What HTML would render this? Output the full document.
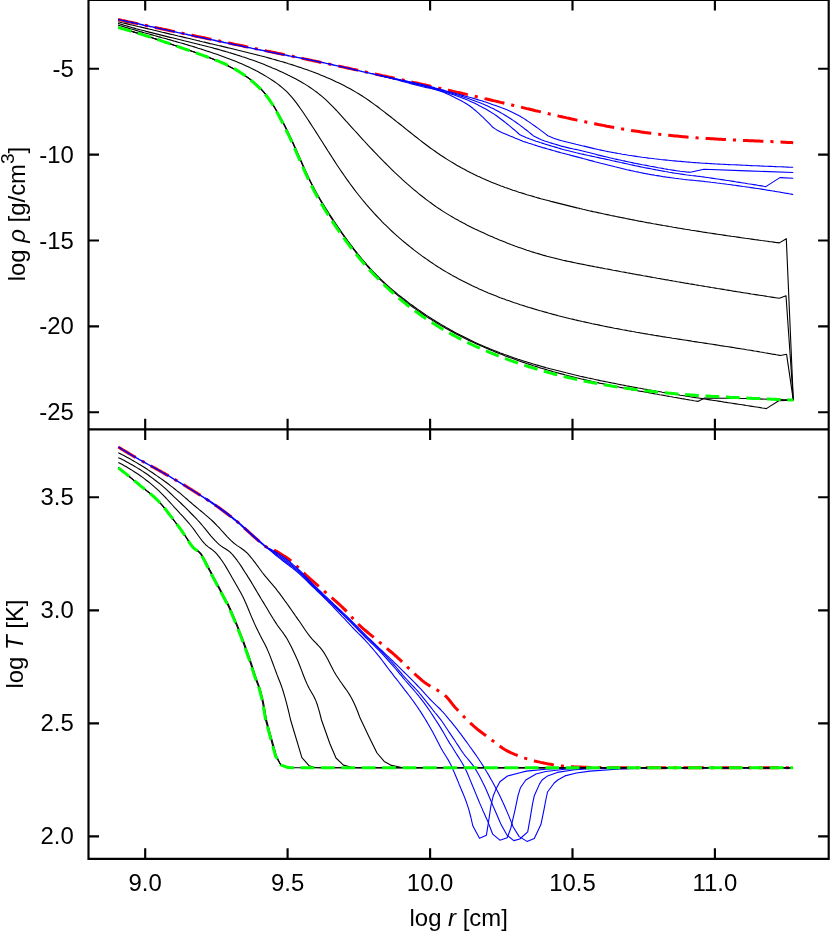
<!DOCTYPE html>
<html><head><meta charset="utf-8"><title>log rho / log T vs log r</title>
<style>
html,body{margin:0;padding:0;background:#fff;}
body{width:830px;height:931px;overflow:hidden;}
svg{display:block;}
text{font-family:"Liberation Sans",sans-serif;font-size:23.90px;fill:#000;}
.k{fill:none;stroke:#000;stroke-width:1.1;stroke-linejoin:round;}
.b{fill:none;stroke:#0000ff;stroke-width:1.1;stroke-linejoin:round;}
.r{fill:none;stroke:#ff0000;stroke-width:3.0;stroke-dasharray:20.4 7 3.1 7;stroke-linejoin:round;}
.g{fill:none;stroke:#00ff00;stroke-width:3.0;stroke-dasharray:13.8 6.6;stroke-linejoin:round;}
.f{fill:none;stroke:#000;stroke-width:2.15;stroke-linecap:butt;}
</style></head><body>
<svg style="will-change:transform" width="830" height="931" viewBox="0 0 830 931">
<rect x="0" y="0" width="830" height="931" fill="#fff"/>
<g id="top-panel">
<path class="r" d="M118.1 19.5 L120.1 19.9 L122.1 20.4 L124.1 20.8 L126.1 21.2 L128.1 21.7 L130.1 22.1 L132.1 22.5 L134.1 23.0 L136.1 23.4 L138.1 23.8 L140.1 24.3 L142.1 24.7 L144.1 25.1 L146.1 25.5 L148.1 26.0 L150.2 26.4 L152.2 26.8 L154.2 27.3 L156.2 27.7 L158.2 28.1 L160.0 28.5 L160.2 28.5 L162.2 29.0 L164.2 29.4 L166.2 29.8 L168.2 30.2 L170.2 30.7 L172.2 31.1 L174.2 31.5 L176.2 31.9 L178.2 32.4 L180.2 32.8 L182.2 33.2 L184.2 33.6 L186.2 34.0 L188.2 34.5 L190.2 34.9 L192.2 35.3 L194.2 35.7 L196.2 36.2 L198.2 36.6 L200.0 37.0 L200.2 37.0 L202.2 37.4 L204.2 37.8 L206.2 38.3 L208.2 38.7 L210.3 39.1 L212.3 39.5 L214.3 40.0 L216.3 40.4 L218.3 40.8 L220.3 41.2 L222.3 41.6 L224.3 42.1 L226.3 42.5 L228.3 42.9 L230.3 43.3 L232.3 43.7 L234.3 44.2 L236.3 44.6 L238.3 45.0 L240.3 45.4 L242.3 45.8 L244.3 46.2 L246.3 46.7 L248.3 47.1 L250.3 47.5 L252.3 47.9 L254.3 48.3 L256.3 48.8 L258.3 49.2 L260.3 49.6 L262.3 50.0 L264.3 50.4 L266.3 50.9 L268.3 51.3 L270.0 51.6 L270.3 51.7 L272.4 52.1 L274.4 52.5 L276.4 53.0 L278.4 53.4 L280.4 53.8 L282.4 54.2 L284.4 54.6 L286.4 55.1 L288.4 55.5 L290.4 55.9 L292.4 56.3 L294.4 56.8 L296.4 57.2 L298.4 57.6 L300.4 58.0 L302.4 58.4 L304.4 58.9 L306.4 59.3 L308.4 59.7 L310.4 60.1 L312.4 60.6 L314.4 61.0 L316.4 61.4 L318.4 61.8 L320.0 62.2 L320.4 62.2 L322.4 62.7 L324.4 63.1 L326.4 63.5 L328.4 63.9 L330.4 64.4 L332.4 64.8 L334.5 65.2 L336.5 65.7 L338.5 66.1 L340.5 66.5 L342.5 66.9 L344.5 67.4 L346.5 67.8 L348.5 68.2 L350.5 68.6 L352.5 69.1 L354.5 69.5 L356.5 69.9 L358.5 70.4 L360.5 70.8 L362.5 71.2 L364.5 71.7 L366.5 72.1 L368.5 72.5 L370.5 73.0 L372.5 73.4 L374.5 73.8 L376.5 74.3 L378.5 74.7 L380.0 75.0 L380.5 75.1 L382.5 75.6 L384.5 76.0 L386.5 76.4 L388.5 76.9 L390.5 77.3 L392.5 77.7 L394.6 78.2 L396.6 78.6 L398.6 79.1 L400.6 79.5 L402.6 79.9 L404.6 80.4 L406.6 80.8 L408.6 81.3 L410.6 81.7 L412.6 82.2 L414.6 82.6 L416.6 83.0 L418.6 83.5 L420.0 83.8 L420.6 83.9 L422.6 84.4 L424.6 84.8 L426.6 85.3 L428.6 85.7 L430.6 86.2 L432.6 86.6 L434.6 87.1 L436.6 87.5 L438.6 88.0 L440.6 88.4 L442.6 88.9 L444.6 89.3 L446.6 89.8 L448.6 90.2 L450.6 90.7 L452.6 91.2 L454.6 91.6 L456.7 92.1 L458.6 92.5 L458.7 92.5 L460.7 93.0 L462.7 93.5 L464.7 93.9 L466.7 94.4 L468.7 94.8 L470.7 95.3 L472.7 95.8 L474.7 96.2 L476.7 96.7 L478.7 97.2 L480.7 97.6 L482.7 98.1 L484.7 98.6 L486.7 99.0 L488.7 99.5 L490.7 100.0 L492.7 100.5 L494.7 100.9 L496.7 101.4 L497.1 101.5 L498.7 101.9 L500.7 102.4 L502.7 102.8 L504.7 103.3 L506.7 103.8 L508.7 104.3 L510.7 104.7 L512.7 105.2 L514.7 105.7 L516.7 106.2 L518.8 106.7 L520.8 107.1 L522.8 107.6 L524.8 108.1 L526.8 108.6 L528.8 109.0 L530.8 109.5 L532.8 110.0 L534.8 110.5 L535.7 110.7 L536.8 110.9 L538.8 111.4 L540.8 111.9 L542.8 112.4 L544.8 112.8 L546.8 113.3 L548.8 113.8 L550.8 114.2 L552.8 114.7 L554.8 115.2 L556.8 115.6 L558.8 116.1 L560.8 116.5 L562.8 117.0 L564.8 117.4 L566.8 117.9 L568.8 118.3 L570.8 118.8 L572.8 119.2 L574.8 119.6 L576.8 120.1 L578.9 120.5 L580.0 120.8 L580.9 120.9 L582.9 121.4 L584.9 121.8 L586.9 122.2 L588.9 122.6 L590.9 123.0 L592.9 123.4 L594.9 123.8 L596.9 124.2 L598.9 124.6 L600.9 125.0 L602.9 125.4 L604.9 125.8 L606.9 126.2 L608.6 126.5 L608.9 126.6 L610.9 126.9 L612.9 127.3 L614.9 127.7 L616.9 128.0 L618.9 128.4 L620.9 128.7 L622.9 129.1 L624.9 129.4 L626.9 129.7 L628.9 130.1 L630.9 130.4 L632.9 130.7 L634.9 131.0 L636.9 131.3 L638.9 131.6 L641.0 131.9 L643.0 132.2 L645.0 132.5 L647.0 132.7 L647.1 132.7 L649.0 133.0 L651.0 133.3 L653.0 133.5 L655.0 133.8 L657.0 134.0 L659.0 134.2 L661.0 134.5 L663.0 134.7 L665.0 134.9 L667.0 135.1 L669.0 135.3 L671.0 135.5 L673.0 135.7 L675.0 135.9 L677.0 136.1 L679.0 136.3 L681.0 136.5 L683.0 136.7 L685.0 136.8 L685.7 136.9 L687.0 137.0 L689.0 137.2 L691.0 137.3 L693.0 137.5 L695.0 137.6 L697.0 137.8 L699.0 137.9 L701.0 138.1 L703.1 138.2 L705.1 138.3 L705.5 138.4 L707.1 138.5 L709.1 138.6 L711.1 138.7 L713.1 138.8 L715.1 138.9 L717.1 139.1 L719.1 139.2 L721.1 139.3 L723.1 139.4 L725.1 139.5 L727.1 139.6 L729.1 139.7 L731.1 139.8 L733.1 139.9 L735.1 140.0 L737.1 140.1 L739.1 140.2 L741.1 140.3 L743.1 140.4 L745.1 140.5 L747.0 140.6 L747.1 140.6 L749.1 140.7 L751.1 140.8 L753.1 140.8 L755.1 140.9 L757.1 141.0 L759.1 141.1 L761.1 141.2 L763.2 141.3 L765.2 141.4 L767.2 141.5 L769.2 141.6 L771.2 141.6 L773.2 141.7 L775.2 141.8 L777.2 141.9 L779.2 142.0 L781.2 142.1 L783.2 142.2 L785.2 142.3 L787.2 142.4 L789.2 142.5 L791.2 142.6 L793.2 142.7"/>
<path class="b" style="stroke-width:1.45" d="M118.1 19.5 L120.1 19.9 L122.1 20.4 L124.1 20.8 L126.1 21.2 L128.1 21.7 L130.1 22.1 L132.1 22.5 L134.1 23.0 L136.1 23.4 L138.1 23.8 L140.1 24.3 L142.1 24.7 L144.1 25.2 L146.1 25.6 L148.1 26.0 L150.2 26.5 L152.2 26.9 L154.2 27.3 L156.2 27.8 L158.2 28.2 L160.0 28.6 L160.2 28.6 L162.2 29.1 L164.2 29.5 L166.2 29.9 L168.2 30.4 L170.2 30.8 L172.2 31.3 L174.2 31.7 L176.2 32.1 L178.2 32.6 L180.2 33.0 L182.2 33.4 L184.2 33.9 L186.2 34.3 L188.2 34.8 L190.2 35.2 L192.2 35.6 L194.2 36.1 L196.2 36.5 L198.2 36.9 L200.0 37.3 L200.2 37.4 L202.2 37.8 L204.2 38.2 L206.2 38.6 L208.2 39.1 L210.3 39.5 L212.3 39.9 L214.3 40.3 L216.3 40.8 L218.3 41.2 L220.3 41.6 L222.3 42.0 L224.3 42.5 L226.3 42.9 L228.3 43.3 L230.3 43.7 L232.3 44.2 L234.3 44.6 L236.3 45.0 L238.3 45.4 L240.3 45.8 L242.3 46.3 L244.3 46.7 L246.3 47.1 L248.3 47.5 L250.3 47.9 L252.3 48.4 L254.3 48.8 L256.3 49.2 L258.3 49.6 L260.3 50.0 L262.3 50.4 L264.3 50.8 L266.3 51.3 L268.3 51.7 L270.0 52.0 L270.3 52.1 L272.4 52.5 L274.4 52.9 L276.4 53.3 L278.4 53.7 L280.4 54.1 L282.4 54.5 L284.4 54.9 L286.4 55.3 L288.4 55.7 L290.4 56.1 L292.4 56.4 L294.4 56.8 L296.4 57.2 L298.4 57.6 L300.4 58.0 L302.4 58.4 L304.4 58.8 L306.4 59.2 L308.4 59.6 L310.4 60.0 L312.4 60.4 L314.4 60.8 L316.4 61.3 L318.4 61.7 L320.0 62.0 L320.4 62.1 L322.4 62.5 L324.4 62.9 L326.4 63.4 L328.4 63.8 L330.4 64.3 L332.4 64.7 L334.5 65.2 L336.5 65.6 L338.5 66.1 L340.5 66.5 L342.5 67.0 L344.5 67.4 L346.5 67.9 L348.5 68.3 L350.5 68.8 L352.5 69.3 L354.5 69.7 L356.5 70.2 L358.5 70.6 L360.5 71.1 L362.5 71.6 L364.5 72.0 L366.5 72.5 L368.5 72.9 L370.5 73.4 L372.5 73.8 L374.5 74.3 L376.5 74.7 L378.5 75.2 L380.0 75.5"/>
<path class="b" d="M380.0 75.5 L380.6 75.6 L382.6 76.1 L384.6 76.6 L386.6 77.2 L388.6 77.7 L390.6 78.2 L392.6 78.7 L394.6 79.3 L396.6 79.8 L398.6 80.3 L400.6 80.9 L402.6 81.4 L404.6 81.9 L406.6 82.5 L408.6 83.0 L410.6 83.6 L412.7 84.1 L414.7 84.6 L416.7 85.1 L418.7 85.7 L420.0 86.0 L420.7 86.2 L422.7 86.7 L424.7 87.1 L426.7 87.6 L428.7 88.0 L430.7 88.5 L432.7 89.0 L434.7 89.5 L436.7 90.0 L438.7 90.6 L439.3 90.8 L440.7 91.3 L442.7 92.0 L444.7 92.8 L446.7 93.7 L448.7 94.6 L450.7 95.5 L452.7 96.5 L454.7 97.5 L456.5 98.4 L456.7 98.5 L458.7 99.5 L460.7 100.6 L462.7 101.6 L464.7 102.8 L466.8 104.0 L468.3 105.0 L468.8 105.3 L470.8 106.7 L472.8 108.3 L474.8 110.0 L476.8 111.7 L477.5 112.3 L478.8 113.4 L480.8 115.3 L482.8 117.2 L484.8 119.1 L485.5 119.8 L486.8 121.1 L488.8 123.1 L490.8 125.2 L492.8 127.3 L494.8 128.6 L496.8 129.9 L498.8 131.0 L500.1 131.7 L500.8 132.1 L502.8 133.0 L504.8 133.8 L506.8 134.6 L508.8 135.4 L510.7 136.2 L510.8 136.3 L512.8 137.1 L514.8 138.0 L516.8 138.8 L518.8 139.6 L520.8 140.4 L521.3 140.6 L522.8 141.2 L524.8 141.9 L526.8 142.5 L528.8 143.2 L530.9 143.8 L532.9 144.5 L534.5 145.0 L534.9 145.1 L536.9 145.7 L538.9 146.4 L540.9 147.0 L542.9 147.6 L544.9 148.1 L546.9 148.7 L547.8 149.0 L548.9 149.3 L550.9 149.9 L552.9 150.5 L554.9 151.0 L556.9 151.6 L558.9 152.1 L560.9 152.7 L562.9 153.2 L564.9 153.8 L565.0 153.8 L566.9 154.3 L568.9 154.8 L570.9 155.4 L572.9 155.9 L574.9 156.4 L576.9 156.9 L578.9 157.4 L580.0 157.7 L580.9 157.9 L582.9 158.5 L584.9 159.0 L586.9 159.5 L588.9 160.1 L590.9 160.6 L592.9 161.1 L594.9 161.7 L596.9 162.2 L598.9 162.7 L600.9 163.3 L602.9 163.8 L604.9 164.3 L607.0 164.8 L608.6 165.2 L609.0 165.3 L611.0 165.8 L613.0 166.3 L615.0 166.8 L617.0 167.2 L619.0 167.7 L621.0 168.2 L623.0 168.7 L625.0 169.2 L627.0 169.7 L629.0 170.1 L631.0 170.6 L633.0 171.0 L635.0 171.5 L637.0 171.9 L639.0 172.3 L641.0 172.7 L643.0 173.1 L645.0 173.5 L647.0 173.9 L647.1 173.9 L649.0 174.2 L651.0 174.6 L653.0 174.9 L655.0 175.3 L657.0 175.6 L659.0 175.9 L661.0 176.2 L663.0 176.6 L665.0 176.9 L667.0 177.2 L669.0 177.4 L671.0 177.7 L673.0 178.0 L675.0 178.3 L677.0 178.5 L679.0 178.8 L681.1 179.0 L683.1 179.3 L685.1 179.5 L685.7 179.6 L687.1 179.7 L689.1 180.0 L691.1 180.1 L693.1 180.3 L695.1 180.5 L697.1 180.7 L699.1 180.9 L700.0 181.0 L701.1 181.1 L703.1 181.3 L705.1 181.6 L707.1 181.8 L709.1 182.0 L711.1 182.3 L713.1 182.5 L715.1 182.7 L717.1 183.0 L719.1 183.2 L721.1 183.5 L723.1 183.7 L725.1 184.0 L727.1 184.3 L729.1 184.5 L731.1 184.8 L733.1 185.1 L735.1 185.3 L737.1 185.6 L739.1 185.9 L741.1 186.2 L743.1 186.5 L745.1 186.7 L747.0 187.0 L747.1 187.0 L749.1 187.3 L751.1 187.6 L753.1 187.9 L755.1 188.2 L757.2 188.5 L759.2 188.8 L761.2 189.1 L763.2 189.4 L765.2 189.7 L767.2 190.1 L769.2 190.4 L771.2 190.7 L773.2 191.0 L775.2 191.4 L777.2 191.7 L779.2 192.0 L781.2 192.4 L783.2 192.7 L785.2 193.1 L787.2 193.4 L789.2 193.8 L791.2 194.1 L793.2 194.5"/>
<path class="b" d="M380.0 75.5 L381.3 75.8 L383.3 76.3 L385.3 76.7 L387.3 77.2 L389.3 77.7 L391.3 78.1 L393.3 78.6 L395.3 79.1 L397.4 79.5 L399.4 80.0 L401.4 80.5 L403.4 80.9 L405.4 81.4 L407.4 81.9 L409.4 82.4 L411.4 82.9 L413.4 83.4 L415.4 83.9 L417.4 84.4 L419.4 85.0 L420.0 85.1 L421.5 85.5 L423.5 86.0 L425.5 86.6 L427.5 87.1 L429.5 87.6 L431.5 88.2 L433.5 88.7 L435.5 89.3 L437.5 89.9 L439.5 90.5 L441.5 91.1 L443.6 91.7 L445.6 92.3 L447.6 92.9 L449.6 93.5 L451.6 94.2 L453.6 94.8 L455.0 95.3 L455.6 95.5 L457.6 96.2 L459.6 96.9 L461.6 97.7 L463.6 98.5 L465.7 99.3 L467.7 100.1 L468.3 100.4 L469.7 101.0 L471.7 101.9 L473.7 102.8 L475.7 103.8 L477.7 104.8 L479.7 105.9 L481.5 106.8 L481.7 106.9 L483.7 108.0 L485.7 109.1 L487.8 110.3 L489.8 111.4 L491.8 112.7 L493.8 113.9 L494.8 114.6 L495.8 115.3 L497.8 116.7 L499.8 118.2 L501.8 119.7 L503.8 121.3 L505.8 122.9 L507.8 124.5 L508.0 124.6 L509.9 126.1 L511.9 127.8 L513.9 129.5 L515.9 131.2 L517.9 133.0 L519.9 134.8 L521.9 135.7 L523.9 136.6 L525.9 137.5 L528.0 138.3 L529.2 138.8 L530.0 139.1 L532.0 139.8 L534.0 140.5 L536.0 141.2 L538.0 141.8 L540.1 142.5 L541.1 142.8 L542.1 143.1 L544.1 143.7 L546.1 144.4 L548.1 145.0 L550.1 145.6 L552.1 146.2 L554.2 146.8 L554.4 146.9 L556.2 147.4 L558.2 148.0 L560.2 148.6 L562.2 149.2 L564.2 149.8 L565.0 150.0 L566.3 150.3 L568.3 150.8 L570.3 151.3 L572.3 151.8 L574.3 152.3 L576.3 152.8 L578.4 153.2 L580.0 153.6 L580.4 153.7 L582.4 154.1 L584.4 154.6 L586.4 155.0 L588.4 155.5 L590.4 155.9 L592.5 156.4 L594.5 156.8 L596.5 157.2 L598.5 157.6 L600.5 158.1 L602.5 158.5 L604.6 158.9 L606.6 159.4 L608.6 159.8 L608.6 159.8 L610.6 160.2 L612.6 160.7 L614.6 161.1 L616.6 161.6 L618.7 162.0 L620.7 162.5 L622.7 162.9 L624.7 163.4 L626.7 163.8 L628.7 164.3 L630.8 164.7 L632.8 165.1 L634.8 165.6 L636.8 166.0 L638.8 166.4 L640.8 166.9 L642.8 167.3 L644.9 167.7 L646.9 168.1 L647.1 168.1 L648.9 168.4 L650.9 168.8 L652.9 169.2 L654.9 169.6 L657.0 170.0 L659.0 170.4 L661.0 170.7 L663.0 171.1 L665.0 171.5 L667.0 171.8 L669.1 172.2 L671.1 172.5 L673.1 172.9 L675.1 173.2 L677.1 173.5 L679.1 173.8 L681.1 174.1 L683.2 174.4 L685.2 174.7 L685.7 174.8 L687.2 175.0 L689.2 175.2 L691.2 175.5 L693.2 175.7 L695.3 175.9 L697.3 176.2 L699.3 176.4 L700.0 176.5 L701.3 176.7 L703.3 176.9 L705.3 177.2 L707.3 177.5 L709.4 177.8 L711.4 178.1 L713.4 178.4 L715.4 178.7 L717.4 179.0 L719.4 179.3 L721.5 179.6 L723.5 179.9 L725.5 180.2 L727.5 180.5 L729.5 180.8 L731.3 181.1 L731.5 181.1 L733.6 181.4 L735.6 181.8 L737.6 182.1 L739.6 182.4 L741.6 182.7 L743.6 183.0 L745.6 183.3 L747.7 183.7 L749.7 184.0 L751.7 184.3 L753.7 184.6 L755.7 184.9 L757.7 185.3 L759.8 185.6 L761.8 185.9 L763.8 186.3 L765.8 186.6 L779.9 177.6 L793.2 178.3"/>
<path class="b" d="M380.0 75.5 L380.8 75.7 L382.8 76.1 L384.8 76.6 L386.8 77.0 L388.8 77.4 L390.8 77.9 L392.8 78.3 L394.8 78.8 L396.8 79.2 L398.8 79.6 L400.8 80.1 L402.9 80.5 L404.9 81.0 L406.9 81.4 L408.9 81.9 L410.9 82.3 L412.9 82.8 L414.9 83.3 L416.9 83.7 L418.9 84.2 L420.0 84.5 L420.9 84.7 L422.9 85.2 L424.9 85.7 L426.9 86.3 L428.9 86.8 L430.9 87.3 L432.9 87.8 L434.9 88.4 L436.9 88.9 L439.0 89.5 L441.0 90.0 L443.0 90.6 L445.0 91.2 L447.0 91.8 L449.0 92.4 L451.0 93.0 L453.0 93.6 L455.0 94.2 L455.0 94.2 L457.0 94.8 L459.0 95.5 L461.0 96.1 L463.0 96.7 L465.0 97.4 L467.0 98.1 L469.0 98.8 L471.0 99.5 L473.0 100.2 L475.0 100.9 L477.1 101.7 L479.1 102.4 L481.1 103.2 L481.5 103.4 L483.1 104.0 L485.1 104.9 L487.1 105.8 L489.1 106.7 L491.1 107.7 L493.1 108.6 L494.8 109.5 L495.1 109.7 L497.1 110.7 L499.1 111.8 L501.1 112.9 L503.1 114.1 L505.1 115.2 L507.1 116.5 L508.0 117.0 L509.1 117.7 L511.1 119.0 L513.1 120.4 L515.2 121.8 L517.2 123.2 L519.2 124.6 L521.2 126.1 L521.3 126.2 L523.2 127.6 L525.2 129.2 L527.2 130.7 L529.2 132.4 L531.2 134.0 L533.2 135.7 L535.2 136.8 L537.2 137.8 L539.2 138.8 L541.1 139.6 L541.3 139.7 L543.3 140.4 L545.3 141.2 L547.3 141.8 L549.3 142.5 L551.4 143.1 L553.4 143.7 L554.4 144.0 L555.4 144.3 L557.4 144.9 L559.4 145.5 L561.4 146.1 L563.5 146.6 L565.0 147.0 L565.5 147.1 L567.5 147.6 L569.5 148.1 L571.5 148.5 L573.5 149.0 L575.6 149.4 L577.6 149.8 L579.6 150.3 L580.0 150.4 L581.6 150.8 L583.6 151.3 L585.6 151.8 L587.7 152.3 L589.7 152.8 L591.7 153.3 L593.7 153.8 L595.7 154.3 L597.7 154.9 L599.8 155.4 L601.8 155.9 L603.8 156.4 L605.8 156.8 L607.8 157.3 L608.6 157.5 L609.8 157.8 L611.9 158.2 L613.9 158.7 L615.9 159.1 L617.9 159.6 L619.9 160.0 L621.9 160.5 L624.0 160.9 L626.0 161.4 L628.0 161.8 L630.0 162.2 L632.0 162.6 L634.0 163.1 L636.1 163.5 L638.1 163.9 L640.1 164.3 L642.1 164.7 L644.1 165.0 L646.1 165.4 L647.1 165.6 L648.1 165.8 L650.2 166.2 L652.2 166.5 L654.2 166.9 L656.2 167.3 L658.2 167.7 L660.2 168.0 L662.3 168.4 L664.3 168.8 L666.3 169.1 L668.3 169.5 L670.3 169.8 L672.4 170.1 L674.4 170.4 L676.4 170.7 L678.4 171.0 L680.4 171.3 L682.4 171.5 L684.5 171.8 L685.7 171.9 L686.5 172.0 L688.5 172.1 L690.5 172.3 L703.9 169.3 L747.0 170.9 L793.2 172.5"/>
<path class="b" d="M380.0 75.5 L381.1 75.7 L383.1 76.2 L385.2 76.6 L387.2 77.0 L389.2 77.5 L391.2 77.9 L393.2 78.3 L395.2 78.7 L397.2 79.1 L399.2 79.5 L401.2 80.0 L403.2 80.4 L405.2 80.8 L407.2 81.2 L409.3 81.7 L411.3 82.1 L413.3 82.6 L415.3 83.0 L417.3 83.5 L419.3 83.9 L420.0 84.1 L421.3 84.4 L423.3 84.9 L425.3 85.4 L427.3 85.9 L429.3 86.4 L431.3 86.9 L433.3 87.4 L435.4 88.0 L437.4 88.5 L439.4 89.0 L441.4 89.6 L443.4 90.1 L445.4 90.7 L447.4 91.2 L449.4 91.8 L451.4 92.3 L453.4 92.9 L455.0 93.3 L455.4 93.4 L457.4 94.0 L459.5 94.5 L461.5 95.1 L463.5 95.6 L465.5 96.2 L467.5 96.7 L469.5 97.3 L471.5 97.8 L473.5 98.4 L475.5 99.0 L477.5 99.6 L479.5 100.2 L481.5 100.8 L481.5 100.8 L483.5 101.4 L485.6 102.1 L487.6 102.8 L489.6 103.5 L491.6 104.2 L493.6 104.9 L494.8 105.3 L495.6 105.6 L497.6 106.3 L499.6 107.0 L501.6 107.8 L503.6 108.5 L505.6 109.3 L507.6 110.1 L508.0 110.3 L509.6 111.0 L511.7 112.0 L513.7 112.9 L515.7 113.9 L517.7 115.0 L519.7 116.1 L521.3 117.0 L521.7 117.2 L523.7 118.4 L525.7 119.7 L527.7 121.1 L529.7 122.4 L531.7 123.9 L533.7 125.3 L534.5 125.8 L535.8 126.7 L537.8 128.1 L539.8 129.6 L541.8 131.1 L543.8 132.6 L545.8 134.1 L547.8 135.7 L549.8 136.6 L551.8 137.4 L553.8 138.2 L555.7 138.9 L555.8 138.9 L557.9 139.6 L559.9 140.2 L561.9 140.8 L563.9 141.3 L565.0 141.6 L565.9 141.8 L567.9 142.3 L569.9 142.8 L571.9 143.3 L573.9 143.8 L576.0 144.3 L578.0 144.7 L580.0 145.2 L580.0 145.2 L582.0 145.7 L584.0 146.1 L586.0 146.6 L588.0 147.1 L590.0 147.6 L592.1 148.1 L594.1 148.6 L596.1 149.0 L598.1 149.5 L600.1 149.9 L602.1 150.4 L604.1 150.8 L606.1 151.2 L608.1 151.6 L608.6 151.7 L610.2 152.0 L612.2 152.4 L614.2 152.7 L616.2 153.1 L618.2 153.5 L620.2 153.8 L622.2 154.2 L624.2 154.5 L626.2 154.8 L628.3 155.2 L630.3 155.5 L632.3 155.8 L634.3 156.1 L636.3 156.4 L638.3 156.7 L640.3 157.0 L642.3 157.3 L644.4 157.5 L646.4 157.8 L647.1 157.9 L648.4 158.1 L650.4 158.3 L652.4 158.5 L654.4 158.8 L656.4 159.0 L658.4 159.2 L660.4 159.5 L662.5 159.7 L664.5 159.9 L666.5 160.1 L668.5 160.3 L670.5 160.5 L672.5 160.7 L674.5 160.9 L676.5 161.1 L678.5 161.3 L680.6 161.4 L682.6 161.6 L684.6 161.8 L685.7 161.9 L686.6 162.0 L688.6 162.1 L690.6 162.3 L692.6 162.5 L694.6 162.6 L696.6 162.8 L698.7 162.9 L700.0 163.0 L700.7 163.0 L702.7 163.2 L704.7 163.3 L706.7 163.4 L708.7 163.5 L710.7 163.6 L712.7 163.7 L714.8 163.9 L716.8 164.0 L718.8 164.1 L720.8 164.2 L722.8 164.3 L724.8 164.4 L726.8 164.5 L728.8 164.6 L730.8 164.7 L732.9 164.8 L734.9 164.8 L736.9 164.9 L738.9 165.0 L740.9 165.1 L742.9 165.2 L744.9 165.3 L746.9 165.4 L747.0 165.4 L748.9 165.5 L751.0 165.6 L753.0 165.7 L755.0 165.8 L757.0 165.8 L759.0 165.9 L761.0 166.0 L763.0 166.1 L765.0 166.2 L767.1 166.3 L769.1 166.4 L771.1 166.4 L773.1 166.5 L775.1 166.6 L777.1 166.7 L779.1 166.8 L781.1 166.8 L783.1 166.9 L785.2 167.0 L787.2 167.1 L789.2 167.2 L791.2 167.2 L793.2 167.3"/>
<path class="k" d="M118.1 21.7 L120.1 22.2 L122.1 22.7 L124.1 23.1 L126.1 23.6 L128.1 24.1 L130.1 24.6 L132.1 25.0 L134.1 25.5 L136.1 26.0 L138.1 26.5 L140.1 26.9 L142.1 27.4 L144.2 27.9 L146.2 28.4 L148.2 28.9 L150.0 29.3 L150.2 29.3 L152.2 29.8 L154.2 30.3 L156.2 30.7 L158.2 31.2 L160.2 31.7 L162.2 32.2 L164.2 32.6 L166.2 33.1 L168.2 33.6 L170.2 34.1 L172.2 34.5 L174.2 35.0 L175.0 35.2 L176.2 35.5 L178.2 36.0 L180.2 36.4 L182.2 36.9 L184.2 37.4 L186.2 37.9 L188.2 38.3 L190.2 38.8 L192.2 39.3 L194.2 39.8 L196.3 40.2 L198.3 40.7 L200.0 41.1 L200.3 41.2 L202.3 41.7 L204.3 42.1 L206.3 42.6 L208.3 43.1 L210.3 43.6 L212.3 44.0 L214.3 44.5 L216.3 45.0 L218.3 45.5 L220.3 45.9 L222.3 46.4 L224.3 46.9 L226.3 47.4 L228.3 47.9 L228.9 48.0 L230.3 48.3 L232.3 48.8 L234.3 49.3 L236.3 49.8 L238.3 50.3 L240.3 50.7 L242.3 51.2 L244.3 51.7 L246.4 52.2 L248.4 52.7 L250.4 53.2 L252.4 53.7 L254.4 54.2 L256.4 54.7 L257.8 55.1 L258.4 55.2 L260.4 55.8 L262.4 56.3 L264.4 56.8 L266.4 57.3 L268.4 57.9 L270.4 58.4 L272.4 59.0 L274.4 59.5 L276.4 60.1 L278.4 60.7 L280.4 61.3 L282.4 61.8 L284.4 62.4 L286.4 63.0 L286.7 63.1 L288.4 63.7 L290.4 64.3 L292.4 64.9 L294.4 65.5 L296.5 66.2 L298.5 66.9 L300.5 67.5 L302.5 68.2 L304.5 68.9 L306.5 69.6 L308.5 70.3 L308.6 70.4 L310.5 71.0 L312.5 71.8 L314.5 72.5 L316.5 73.3 L318.5 74.1 L320.5 74.9 L322.5 75.7 L324.5 76.5 L326.5 77.4 L328.5 78.2 L330.5 79.1 L332.5 80.0 L334.5 80.9 L336.5 81.9 L338.5 82.8 L340.5 83.8 L342.5 84.8 L344.5 85.8 L346.5 86.9 L347.1 87.2 L348.6 88.0 L350.6 89.1 L352.6 90.2 L354.6 91.4 L356.6 92.6 L358.6 93.8 L360.6 95.0 L362.6 96.3 L364.6 97.6 L366.4 98.8 L366.6 98.9 L368.6 100.3 L370.6 101.7 L372.6 103.1 L374.6 104.6 L376.6 106.0 L378.6 107.5 L380.6 109.1 L382.6 110.6 L384.6 112.1 L385.7 113.0 L386.6 113.7 L388.6 115.2 L390.6 116.8 L392.6 118.4 L394.6 120.0 L396.6 121.6 L398.7 123.2 L400.7 124.8 L402.7 126.4 L404.7 128.0 L404.9 128.2 L406.7 129.6 L408.7 131.2 L410.7 132.8 L412.7 134.4 L414.7 136.0 L416.7 137.5 L418.7 139.1 L420.0 140.1 L420.7 140.6 L422.7 142.2 L424.7 143.7 L426.7 145.2 L428.7 146.7 L430.7 148.2 L432.7 149.6 L434.7 151.0 L436.7 152.5 L438.7 153.8 L439.3 154.2 L440.7 155.2 L442.7 156.5 L444.7 157.8 L446.7 159.1 L448.8 160.4 L450.8 161.6 L452.8 162.8 L454.8 164.0 L456.8 165.2 L458.6 166.2 L458.8 166.3 L460.8 167.5 L462.8 168.6 L464.8 169.6 L466.8 170.7 L468.8 171.7 L470.8 172.8 L472.8 173.7 L474.8 174.7 L476.8 175.7 L477.8 176.2 L478.8 176.6 L480.8 177.6 L482.8 178.5 L484.8 179.3 L486.8 180.2 L488.8 181.1 L490.8 181.9 L492.8 182.7 L494.8 183.5 L496.8 184.3 L497.1 184.4 L498.8 185.1 L500.9 185.9 L502.9 186.6 L504.9 187.4 L506.9 188.1 L508.9 188.8 L510.9 189.5 L512.9 190.2 L514.9 190.8 L516.4 191.3 L516.9 191.5 L518.9 192.2 L520.9 192.8 L522.9 193.4 L524.9 194.0 L526.9 194.7 L528.9 195.3 L530.9 195.8 L532.9 196.4 L534.9 197.0 L535.7 197.2 L536.9 197.6 L538.9 198.1 L540.9 198.7 L542.9 199.2 L544.9 199.8 L546.9 200.3 L548.9 200.8 L551.0 201.4 L553.0 201.9 L554.9 202.4 L555.0 202.4 L557.0 202.9 L559.0 203.4 L561.0 203.9 L563.0 204.4 L565.0 204.9 L567.0 205.4 L569.0 205.9 L571.0 206.4 L573.0 206.9 L575.0 207.4 L577.0 207.9 L579.0 208.3 L580.0 208.6 L581.0 208.8 L583.0 209.3 L585.0 209.7 L587.0 210.2 L589.0 210.7 L591.0 211.1 L593.0 211.6 L595.0 212.0 L597.0 212.4 L599.0 212.9 L601.0 213.3 L603.1 213.8 L605.1 214.2 L607.1 214.6 L608.6 214.9 L609.1 215.0 L611.1 215.5 L613.1 215.9 L615.1 216.3 L617.1 216.7 L619.1 217.1 L621.1 217.5 L623.1 217.9 L625.1 218.3 L627.1 218.7 L629.1 219.1 L631.1 219.5 L633.1 219.9 L635.1 220.3 L637.1 220.7 L639.1 221.1 L641.1 221.4 L643.1 221.8 L645.1 222.2 L647.1 222.6 L647.1 222.6 L649.1 222.9 L651.1 223.3 L653.2 223.7 L655.2 224.0 L657.2 224.4 L659.2 224.7 L661.2 225.1 L663.2 225.5 L665.2 225.8 L667.2 226.1 L669.2 226.5 L671.2 226.8 L673.2 227.2 L675.2 227.5 L677.2 227.9 L679.2 228.2 L681.2 228.5 L683.2 228.9 L685.2 229.2 L685.7 229.3 L687.2 229.5 L689.2 229.8 L691.2 230.2 L693.2 230.5 L695.2 230.8 L697.2 231.1 L699.2 231.4 L701.2 231.7 L703.3 232.1 L705.3 232.4 L707.3 232.7 L709.3 233.0 L711.3 233.3 L713.3 233.6 L715.3 233.9 L717.3 234.2 L719.3 234.5 L721.3 234.8 L723.3 235.1 L725.3 235.4 L727.3 235.7 L729.3 236.0 L730.0 236.1 L731.3 236.3 L733.3 236.5 L735.3 236.8 L737.3 237.1 L739.3 237.4 L741.3 237.7 L743.3 238.0 L745.3 238.3 L747.3 238.5 L749.3 238.8 L751.3 239.1 L753.3 239.4 L755.4 239.7 L757.4 239.9 L759.4 240.2 L761.4 240.5 L763.4 240.7 L765.4 241.0 L767.4 241.3 L769.4 241.6 L771.4 241.8 L773.4 242.1 L775.4 242.4 L777.4 242.6 L779.4 242.9 L786.3 238.7 L793.3 400.1"/>
<path class="k" d="M118.1 23.4 L120.1 24.0 L122.1 24.6 L124.1 25.2 L126.1 25.8 L128.1 26.4 L130.1 27.0 L132.1 27.6 L134.1 28.1 L136.1 28.7 L138.1 29.2 L140.1 29.8 L142.1 30.3 L144.2 30.8 L146.2 31.4 L148.2 31.9 L150.0 32.4 L150.2 32.4 L152.2 32.9 L154.2 33.4 L156.2 33.9 L158.2 34.4 L160.2 34.9 L162.2 35.4 L164.2 35.9 L166.2 36.4 L168.2 36.9 L170.2 37.4 L172.2 37.8 L174.2 38.3 L175.0 38.5 L176.2 38.8 L178.2 39.3 L180.2 39.8 L182.2 40.3 L184.2 40.8 L186.2 41.2 L188.2 41.7 L190.2 42.2 L192.2 42.7 L194.2 43.2 L196.3 43.7 L198.3 44.2 L200.0 44.6 L200.3 44.7 L202.3 45.2 L204.3 45.7 L206.3 46.2 L208.3 46.8 L210.3 47.3 L212.3 47.8 L214.3 48.4 L216.3 48.9 L218.3 49.4 L220.3 50.0 L222.3 50.6 L224.3 51.1 L226.3 51.7 L228.3 52.3 L228.9 52.5 L230.3 52.9 L232.3 53.5 L234.3 54.1 L236.3 54.7 L238.3 55.4 L240.3 56.0 L242.3 56.7 L244.3 57.3 L246.4 58.0 L248.4 58.7 L250.4 59.4 L252.4 60.1 L254.4 60.8 L256.4 61.5 L257.8 62.1 L258.4 62.3 L260.4 63.0 L262.4 63.8 L264.4 64.6 L266.4 65.4 L268.4 66.2 L270.0 66.9 L270.4 67.0 L272.4 67.9 L274.4 68.7 L276.4 69.6 L278.4 70.5 L280.4 71.4 L282.4 72.3 L284.4 73.3 L286.4 74.2 L288.4 75.2 L289.3 75.6 L290.4 76.2 L292.4 77.2 L294.4 78.2 L296.5 79.3 L298.5 80.4 L300.5 81.5 L302.5 82.7 L304.5 83.9 L306.5 85.1 L308.5 86.4 L308.6 86.5 L310.5 87.7 L312.5 89.1 L314.5 90.6 L316.5 92.0 L318.5 93.6 L320.5 95.2 L322.5 96.9 L324.5 98.6 L326.5 100.4 L327.8 101.6 L328.5 102.3 L330.5 104.3 L332.5 106.3 L334.5 108.4 L336.5 110.5 L338.5 112.7 L340.5 114.9 L342.5 117.1 L344.5 119.4 L346.5 121.6 L347.1 122.2 L348.6 123.8 L350.6 126.1 L352.6 128.3 L354.6 130.5 L356.6 132.7 L358.6 134.9 L360.6 137.1 L362.6 139.3 L364.6 141.5 L366.4 143.4 L366.6 143.6 L368.6 145.8 L370.6 147.9 L372.6 150.0 L374.6 152.1 L376.6 154.2 L378.6 156.3 L380.6 158.3 L382.6 160.4 L384.6 162.4 L385.7 163.5 L386.6 164.4 L388.6 166.4 L390.6 168.4 L392.6 170.3 L394.6 172.3 L396.6 174.2 L398.7 176.1 L400.7 177.9 L402.7 179.8 L404.7 181.6 L404.9 181.8 L406.7 183.4 L408.7 185.1 L410.7 186.9 L412.7 188.6 L414.7 190.3 L416.7 191.9 L418.7 193.6 L420.7 195.2 L422.7 196.8 L424.7 198.3 L424.9 198.5 L426.7 199.9 L428.7 201.4 L430.7 202.8 L432.7 204.3 L434.7 205.7 L436.7 207.1 L438.7 208.5 L440.0 209.3 L440.7 209.8 L442.7 211.1 L444.7 212.4 L446.7 213.6 L448.8 214.9 L450.8 216.1 L452.8 217.2 L454.8 218.4 L456.8 219.5 L458.8 220.6 L459.3 220.9 L460.8 221.7 L462.8 222.8 L464.8 223.8 L466.8 224.9 L468.8 225.9 L470.8 226.9 L472.8 227.9 L474.8 228.9 L476.8 229.8 L478.6 230.7 L478.8 230.8 L480.8 231.7 L482.8 232.6 L484.8 233.6 L486.8 234.5 L488.8 235.4 L490.8 236.2 L492.8 237.1 L494.8 238.0 L496.8 238.8 L497.8 239.2 L498.8 239.7 L500.9 240.5 L502.9 241.3 L504.9 242.1 L506.9 242.9 L508.9 243.7 L510.9 244.5 L512.9 245.2 L514.9 246.0 L516.9 246.7 L517.1 246.8 L518.9 247.4 L520.9 248.1 L522.9 248.8 L524.9 249.5 L526.9 250.2 L528.9 250.8 L530.9 251.5 L532.9 252.1 L534.9 252.7 L536.4 253.2 L536.9 253.3 L538.9 253.9 L540.9 254.5 L542.9 255.1 L544.9 255.6 L546.9 256.2 L548.9 256.7 L551.0 257.2 L553.0 257.7 L555.0 258.2 L555.7 258.4 L557.0 258.7 L559.0 259.2 L561.0 259.7 L563.0 260.2 L565.0 260.6 L567.0 261.1 L569.0 261.5 L571.0 261.9 L573.0 262.4 L574.9 262.8 L575.0 262.8 L577.0 263.2 L579.0 263.6 L581.0 264.0 L583.0 264.4 L585.0 264.8 L587.0 265.2 L589.0 265.6 L591.0 266.0 L593.0 266.4 L595.0 266.8 L597.0 267.1 L599.0 267.5 L600.0 267.7 L601.0 267.9 L603.1 268.3 L605.1 268.7 L607.1 269.0 L609.1 269.4 L611.1 269.8 L613.1 270.2 L615.1 270.5 L617.1 270.9 L619.1 271.3 L621.1 271.7 L623.1 272.0 L625.1 272.4 L627.1 272.8 L629.1 273.1 L631.1 273.5 L633.1 273.9 L635.1 274.2 L637.1 274.6 L639.1 274.9 L641.1 275.3 L643.1 275.7 L645.1 276.0 L647.1 276.4 L649.1 276.8 L650.0 276.9 L651.1 277.1 L653.2 277.5 L655.2 277.8 L657.2 278.2 L659.2 278.5 L661.2 278.9 L663.2 279.2 L665.2 279.6 L667.2 279.9 L669.2 280.3 L671.2 280.6 L673.2 281.0 L675.2 281.3 L677.2 281.7 L679.2 282.0 L681.2 282.4 L683.2 282.7 L685.2 283.1 L687.2 283.4 L689.2 283.8 L691.2 284.1 L693.2 284.4 L695.2 284.8 L697.2 285.1 L699.2 285.5 L701.2 285.8 L703.3 286.1 L705.3 286.5 L707.3 286.8 L709.3 287.1 L711.3 287.5 L713.3 287.8 L715.3 288.1 L717.3 288.5 L719.3 288.8 L721.3 289.1 L723.3 289.4 L725.3 289.8 L727.3 290.1 L729.3 290.4 L730.0 290.5 L731.3 290.7 L733.3 291.1 L735.3 291.4 L737.3 291.7 L739.3 292.0 L741.3 292.4 L743.3 292.7 L745.3 293.0 L747.3 293.3 L749.3 293.6 L751.3 294.0 L753.3 294.3 L755.4 294.6 L757.4 294.9 L759.4 295.2 L761.4 295.5 L763.4 295.8 L765.4 296.1 L767.4 296.5 L769.4 296.8 L771.4 297.1 L773.4 297.4 L775.4 297.7 L777.4 298.0 L779.4 298.3 L786.0 295.7 L793.3 400.1"/>
<path class="k" d="M118.1 25.1 L120.1 25.7 L122.1 26.3 L124.1 26.9 L126.1 27.5 L128.1 28.1 L130.1 28.7 L132.1 29.3 L134.1 29.8 L136.1 30.4 L138.1 31.0 L140.1 31.6 L142.1 32.1 L144.1 32.7 L146.1 33.2 L148.1 33.8 L150.0 34.3 L150.1 34.4 L152.1 34.9 L154.1 35.5 L156.1 36.0 L158.1 36.6 L160.1 37.1 L162.1 37.7 L164.1 38.2 L166.1 38.8 L168.1 39.4 L170.1 39.9 L172.1 40.5 L174.1 41.1 L175.0 41.3 L176.1 41.6 L178.1 42.2 L180.1 42.8 L182.1 43.3 L184.1 43.9 L186.1 44.5 L188.1 45.1 L190.1 45.7 L192.1 46.3 L194.1 46.9 L196.1 47.5 L198.1 48.2 L200.0 48.7 L200.1 48.8 L202.1 49.4 L204.1 50.1 L206.1 50.7 L208.1 51.4 L210.1 52.0 L212.1 52.7 L214.1 53.4 L216.1 54.1 L218.1 54.8 L220.1 55.5 L222.1 56.2 L224.1 56.9 L226.1 57.7 L228.1 58.4 L228.9 58.7 L230.2 59.2 L232.2 60.0 L234.2 60.8 L236.2 61.6 L238.2 62.4 L240.2 63.2 L242.2 64.1 L244.2 65.0 L246.2 65.9 L248.2 66.8 L250.2 67.8 L252.2 68.7 L254.2 69.7 L256.2 70.8 L257.8 71.6 L258.2 71.8 L260.2 72.9 L262.2 74.0 L264.2 75.2 L266.2 76.4 L268.2 77.6 L270.2 78.9 L272.2 80.2 L272.3 80.3 L274.2 81.5 L276.2 82.9 L278.2 84.4 L280.2 86.0 L282.2 87.6 L284.2 89.4 L286.2 91.2 L288.2 93.2 L289.3 94.4 L290.2 95.4 L292.2 97.7 L294.2 100.1 L296.2 102.7 L298.2 105.4 L298.9 106.4 L300.2 108.2 L302.2 111.0 L304.2 114.0 L306.2 117.0 L308.2 120.0 L308.6 120.6 L310.2 123.1 L312.2 126.2 L314.2 129.3 L316.2 132.4 L318.2 135.5 L320.2 138.7 L322.2 141.8 L324.2 145.0 L326.2 148.1 L327.8 150.7 L328.2 151.3 L330.2 154.4 L332.2 157.5 L334.2 160.6 L336.2 163.7 L338.2 166.7 L340.2 169.7 L342.2 172.6 L344.2 175.5 L346.2 178.4 L347.1 179.7 L348.2 181.2 L350.2 184.0 L352.2 186.7 L354.2 189.4 L356.2 192.0 L358.2 194.5 L360.2 197.0 L362.2 199.5 L364.2 201.9 L366.2 204.3 L367.1 205.3 L368.2 206.6 L370.2 208.9 L372.2 211.2 L374.2 213.4 L376.2 215.5 L378.2 217.6 L380.2 219.7 L382.2 221.8 L384.2 223.8 L386.2 225.7 L386.4 225.9 L388.2 227.7 L390.2 229.6 L392.2 231.5 L394.2 233.3 L396.2 235.1 L398.2 236.9 L400.2 238.6 L402.2 240.3 L404.2 242.0 L405.7 243.2 L406.2 243.7 L408.2 245.3 L410.2 246.9 L412.2 248.5 L414.2 250.1 L416.2 251.6 L418.2 253.1 L420.2 254.6 L422.2 256.1 L424.2 257.5 L424.9 258.0 L426.2 258.9 L428.2 260.3 L430.2 261.7 L432.2 263.0 L434.2 264.4 L436.2 265.7 L438.2 267.0 L440.0 268.1 L440.2 268.2 L442.2 269.5 L444.2 270.7 L446.2 271.9 L448.2 273.1 L450.3 274.2 L452.3 275.4 L454.3 276.5 L456.3 277.6 L458.3 278.7 L459.3 279.2 L460.3 279.7 L462.3 280.8 L464.3 281.8 L466.3 282.8 L468.3 283.8 L470.3 284.8 L472.3 285.8 L474.3 286.7 L476.3 287.6 L478.3 288.5 L478.6 288.7 L480.3 289.4 L482.3 290.3 L484.3 291.2 L486.3 292.0 L488.3 292.9 L490.3 293.7 L492.3 294.5 L494.3 295.3 L496.3 296.1 L497.8 296.7 L498.3 296.9 L500.3 297.7 L502.3 298.4 L504.3 299.1 L506.3 299.9 L508.3 300.6 L510.3 301.3 L512.3 302.0 L514.3 302.7 L516.3 303.3 L517.1 303.6 L518.3 304.0 L520.3 304.7 L522.3 305.3 L524.3 305.9 L526.3 306.6 L528.3 307.2 L530.3 307.8 L532.3 308.4 L534.3 309.0 L536.3 309.6 L536.4 309.6 L538.3 310.2 L540.3 310.8 L542.3 311.3 L544.3 311.9 L546.3 312.4 L548.3 313.0 L550.3 313.5 L552.3 314.1 L554.3 314.6 L555.7 315.0 L556.3 315.1 L558.3 315.7 L560.3 316.2 L562.3 316.7 L564.3 317.2 L566.3 317.7 L568.3 318.2 L570.3 318.7 L572.3 319.1 L574.3 319.6 L574.9 319.8 L576.3 320.1 L578.3 320.6 L580.3 321.0 L582.3 321.5 L584.3 321.9 L586.3 322.4 L588.3 322.8 L590.3 323.2 L592.3 323.7 L594.3 324.1 L596.3 324.5 L598.3 324.9 L600.3 325.4 L602.3 325.8 L604.3 326.2 L605.7 326.5 L606.3 326.6 L608.3 327.0 L610.3 327.4 L612.3 327.8 L614.3 328.2 L616.3 328.5 L618.3 328.9 L620.3 329.3 L622.3 329.7 L624.3 330.0 L626.3 330.4 L628.3 330.8 L630.0 331.1 L630.3 331.1 L632.3 331.5 L634.3 331.8 L636.3 332.2 L638.3 332.5 L640.3 332.9 L642.3 333.2 L644.3 333.6 L646.3 333.9 L648.3 334.3 L650.0 334.5 L650.3 334.6 L652.3 334.9 L654.3 335.3 L656.3 335.6 L658.3 335.9 L660.3 336.2 L662.3 336.6 L664.3 336.9 L666.3 337.2 L668.3 337.5 L670.4 337.8 L672.4 338.2 L674.4 338.5 L676.4 338.8 L678.4 339.1 L680.4 339.4 L682.4 339.7 L684.4 340.0 L686.4 340.3 L688.4 340.6 L690.4 340.9 L692.4 341.3 L694.4 341.6 L696.4 341.9 L698.4 342.2 L700.4 342.5 L702.4 342.8 L704.4 343.1 L706.4 343.4 L707.1 343.5 L708.4 343.7 L710.4 344.0 L712.4 344.3 L714.4 344.6 L716.4 344.9 L718.4 345.2 L720.4 345.6 L722.4 345.9 L724.4 346.2 L726.4 346.5 L728.4 346.8 L730.4 347.1 L732.4 347.4 L734.4 347.7 L736.4 348.1 L738.4 348.4 L740.4 348.7 L742.4 349.0 L744.4 349.3 L746.4 349.7 L748.4 350.0 L750.4 350.3 L752.4 350.6 L754.4 351.0 L756.4 351.3 L758.4 351.6 L760.4 352.0 L762.4 352.3 L764.4 352.7 L766.4 353.0 L768.4 353.4 L770.4 353.7 L772.4 354.1 L774.4 354.4 L776.4 354.8 L778.4 355.1 L780.4 355.5 L786.6 354.3 L793.3 400.1"/>
<path class="k" d="M118.1 27.5 L120.1 28.0 L122.1 28.6 L124.1 29.2 L126.1 29.7 L128.1 30.3 L130.1 30.9 L132.1 31.5 L134.1 32.1 L136.1 32.7 L136.1 32.7 L138.1 33.3 L140.1 34.0 L142.1 34.6 L144.1 35.2 L146.1 35.9 L148.1 36.5 L150.0 37.1 L150.1 37.1 L152.1 37.8 L154.1 38.5 L156.1 39.1 L158.1 39.8 L160.1 40.4 L160.2 40.5 L162.1 41.1 L164.1 41.8 L166.1 42.5 L168.1 43.1 L170.1 43.8 L172.1 44.5 L174.1 45.2 L176.1 45.8 L178.1 46.5 L180.1 47.2 L182.1 47.9 L184.1 48.6 L184.3 48.6 L186.1 49.3 L188.1 49.9 L190.1 50.6 L192.1 51.3 L194.1 52.0 L196.1 52.7 L198.1 53.4 L200.0 54.1 L200.1 54.1 L202.1 54.9 L204.1 55.6 L206.1 56.3 L208.1 57.1 L210.1 57.9 L212.1 58.7 L214.1 59.5 L214.5 59.7 L216.1 60.4 L218.1 61.2 L220.1 62.1 L222.1 63.0 L224.1 64.0 L226.1 64.9 L228.1 65.9 L228.9 66.3 L230.1 66.9 L232.1 68.0 L234.1 69.1 L236.1 70.2 L238.1 71.4 L240.1 72.6 L242.1 73.8 L243.4 74.6 L244.1 75.1 L246.1 76.4 L248.1 77.8 L250.1 79.2 L252.1 80.8 L254.1 82.4 L256.1 84.1 L257.8 85.6 L258.1 86.0 L260.1 88.0 L262.1 90.1 L264.1 92.4 L265.1 93.5 L266.1 94.8 L268.1 97.5 L270.1 100.3 L272.1 103.2 L272.3 103.5 L274.1 106.4 L276.1 109.7 L278.1 113.1 L279.5 115.5 L280.1 116.7 L282.2 120.4 L284.2 124.3 L286.2 128.2 L288.2 132.3 L289.3 134.7 L290.2 136.5 L292.2 140.8 L294.2 145.2 L296.2 149.6 L298.2 154.1 L298.9 155.8 L300.2 158.7 L302.2 163.2 L304.2 167.8 L306.2 172.3 L308.2 176.6 L309.3 179.0 L310.2 180.8 L312.2 184.8 L314.2 188.6 L316.2 192.3 L318.2 195.8 L320.2 199.3 L322.2 202.6 L324.2 205.8 L326.2 209.0 L328.2 212.1 L328.6 212.8 L330.2 215.2 L332.2 218.2 L334.2 221.3 L336.2 224.2 L338.2 227.2 L340.2 230.1 L342.2 233.0 L344.2 235.8 L346.2 238.6 L347.8 240.8 L348.2 241.3 L350.2 244.0 L352.2 246.7 L354.2 249.3 L356.2 251.9 L358.2 254.4 L360.2 256.9 L362.2 259.3 L364.2 261.6 L366.2 263.9 L367.1 265.0 L368.2 266.2 L370.2 268.4 L372.2 270.6 L374.2 272.7 L376.2 274.7 L378.2 276.7 L380.2 278.7 L382.2 280.6 L384.2 282.5 L386.2 284.3 L386.4 284.5 L388.2 286.1 L390.2 287.9 L392.2 289.6 L394.2 291.3 L396.2 292.9 L398.2 294.6 L400.2 296.2 L402.2 297.8 L404.2 299.3 L405.7 300.5 L406.2 300.8 L408.2 302.4 L410.2 303.9 L412.2 305.3 L414.2 306.8 L416.2 308.2 L418.2 309.6 L420.2 311.0 L422.2 312.4 L424.2 313.8 L424.9 314.2 L426.2 315.1 L428.2 316.4 L430.2 317.7 L432.2 319.0 L434.2 320.2 L436.2 321.5 L438.2 322.7 L440.0 323.8 L440.2 323.9 L442.2 325.1 L444.2 326.3 L446.2 327.5 L448.2 328.6 L450.2 329.7 L452.2 330.8 L454.2 331.9 L456.2 333.0 L458.2 334.0 L459.3 334.6 L460.2 335.1 L462.2 336.1 L464.2 337.1 L466.2 338.1 L468.2 339.1 L470.2 340.1 L472.2 341.0 L474.2 342.0 L476.2 342.9 L478.2 343.8 L478.6 344.0 L480.2 344.7 L482.2 345.6 L484.2 346.4 L486.2 347.3 L488.2 348.1 L490.2 348.9 L492.2 349.8 L494.2 350.6 L496.2 351.3 L497.8 352.0 L498.2 352.1 L500.2 352.9 L502.2 353.6 L504.2 354.4 L506.2 355.1 L508.2 355.8 L510.2 356.5 L512.2 357.2 L514.2 357.9 L516.2 358.6 L517.1 358.9 L518.2 359.3 L520.2 359.9 L522.2 360.6 L524.2 361.2 L526.2 361.8 L528.2 362.5 L528.6 362.6 L530.2 363.1 L532.2 363.7 L534.2 364.3 L536.2 364.9 L538.2 365.4 L540.2 366.0 L542.2 366.6 L544.2 367.1 L546.2 367.7 L548.2 368.2 L550.2 368.8 L552.2 369.3 L554.2 369.8 L556.2 370.3 L558.2 370.8 L560.2 371.3 L562.2 371.8 L564.2 372.3 L566.2 372.8 L567.1 373.0 L568.2 373.3 L570.2 373.8 L572.2 374.3 L574.2 374.8 L576.2 375.2 L578.2 375.7 L580.2 376.2 L582.2 376.6 L584.2 377.1 L586.2 377.5 L588.2 378.0 L590.2 378.4 L592.2 378.8 L594.2 379.3 L596.2 379.7 L598.2 380.1 L600.2 380.6 L602.2 381.0 L604.2 381.4 L605.7 381.7 L606.3 381.8 L608.3 382.2 L610.3 382.6 L612.3 383.0 L614.3 383.4 L616.3 383.8 L618.3 384.2 L620.3 384.6 L622.3 385.0 L624.3 385.4 L626.3 385.8 L628.3 386.1 L630.3 386.5 L632.3 386.9 L634.3 387.2 L636.3 387.6 L638.3 388.0 L640.3 388.3 L642.3 388.7 L644.3 389.1 L646.3 389.4 L648.3 389.8 L650.0 390.1 L650.3 390.1 L652.3 390.5 L654.3 390.8 L656.3 391.2 L658.3 391.5 L660.3 391.8 L662.3 392.2 L664.3 392.5 L666.3 392.9 L668.3 393.2 L670.3 393.5 L672.3 393.8 L674.3 394.2 L676.3 394.5 L678.3 394.8 L680.3 395.2 L682.3 395.5 L684.3 395.8 L686.3 396.1 L688.3 396.4 L690.3 396.8 L692.3 397.1 L694.3 397.4 L696.3 397.7 L698.3 398.0 L700.0 398.3 L700.3 398.3 L702.3 398.6 L704.3 399.0 L706.3 399.3 L708.3 399.6 L710.3 399.9 L712.3 400.2 L714.3 400.5 L716.3 400.8 L718.3 401.1 L720.3 401.4 L722.3 401.7 L724.3 402.1 L726.3 402.4 L728.3 402.7 L730.3 403.0 L732.3 403.3 L734.3 403.6 L736.3 403.9 L738.3 404.2 L740.3 404.5 L742.3 404.8 L744.3 405.1 L746.3 405.5 L748.3 405.8 L750.3 406.1 L752.3 406.4 L754.3 406.7 L756.3 407.0 L758.3 407.3 L760.3 407.6 L762.3 408.0 L764.3 408.3 L766.3 408.6 L778.8 400.8 L793.3 400.1"/>
<path class="k" d="M118.1 27.5 L120.1 28.0 L122.1 28.6 L124.1 29.2 L126.1 29.7 L128.1 30.3 L130.1 30.9 L132.1 31.5 L134.1 32.1 L136.1 32.7 L136.2 32.7 L138.2 33.3 L140.2 34.0 L142.2 34.6 L144.2 35.2 L146.2 35.9 L148.2 36.5 L150.0 37.1 L150.2 37.2 L152.2 37.8 L154.2 38.5 L156.2 39.1 L158.2 39.8 L160.2 40.5 L160.2 40.5 L162.2 41.2 L164.2 41.8 L166.2 42.5 L168.2 43.2 L170.3 43.9 L172.3 44.6 L174.3 45.2 L176.3 45.9 L178.3 46.6 L180.3 47.3 L182.3 48.0 L184.3 48.7 L184.3 48.7 L186.3 49.3 L188.3 50.0 L190.3 50.7 L192.3 51.4 L194.3 52.1 L196.3 52.8 L198.3 53.5 L200.0 54.1 L200.3 54.2 L202.3 54.9 L204.4 55.7 L206.4 56.4 L208.4 57.2 L210.4 58.0 L212.4 58.8 L214.4 59.6 L214.5 59.7 L216.4 60.4 L218.4 61.3 L220.4 62.2 L222.4 63.1 L224.4 64.1 L226.4 65.0 L228.4 66.0 L228.9 66.3 L230.4 67.1 L232.4 68.1 L234.4 69.3 L236.4 70.4 L238.5 71.6 L240.5 72.8 L242.5 74.0 L243.4 74.6 L244.5 75.3 L246.5 76.7 L248.5 78.1 L250.5 79.6 L252.5 81.2 L254.5 82.8 L256.5 84.6 L257.8 85.9 L258.5 86.5 L260.5 88.6 L262.5 90.8 L264.5 93.2 L265.1 93.9 L266.5 95.8 L268.5 98.5 L270.5 101.4 L272.3 104.1 L272.6 104.5 L274.6 107.7 L276.6 111.1 L278.6 114.6 L279.5 116.3 L280.6 118.3 L282.6 122.1 L284.6 126.1 L286.6 130.1 L288.6 134.3 L289.3 135.7 L290.6 138.5 L292.6 142.8 L294.6 147.2 L296.6 151.6 L298.6 156.1 L298.9 156.7 L300.6 160.7 L302.6 165.2 L304.6 169.7 L306.7 174.1 L308.7 178.4 L310.0 181.2 L310.7 182.6 L312.7 186.6 L314.7 190.4 L316.7 194.1 L318.7 197.6 L320.7 201.1 L322.7 204.4 L324.7 207.7 L326.7 210.9 L328.6 213.8 L328.7 214.0 L330.7 217.1 L332.7 220.1 L334.7 223.2 L336.7 226.1 L338.7 229.1 L340.8 232.0 L342.8 234.8 L344.8 237.6 L346.8 240.4 L347.8 241.8 L348.8 243.1 L350.8 245.8 L352.8 248.4 L354.8 251.0 L356.8 253.6 L358.8 256.0 L360.8 258.5 L362.8 260.9 L364.8 263.2 L366.8 265.5 L367.1 265.8 L368.8 267.8 L370.8 270.0 L372.8 272.1 L374.9 274.2 L376.9 276.3 L378.9 278.3 L380.9 280.3 L382.9 282.2 L384.9 284.1 L386.4 285.5 L386.9 286.0 L388.9 287.8 L390.9 289.6 L392.9 291.3 L394.9 293.0 L396.9 294.7 L398.9 296.4 L400.9 298.0 L402.9 299.6 L404.9 301.1 L405.7 301.7 L406.9 302.7 L409.0 304.2 L411.0 305.7 L413.0 307.2 L415.0 308.6 L417.0 310.1 L419.0 311.5 L421.0 312.8 L423.0 314.2 L424.9 315.5 L425.0 315.5 L427.0 316.9 L429.0 318.2 L431.0 319.4 L433.0 320.7 L435.0 321.9 L437.0 323.2 L439.0 324.4 L440.0 324.9 L441.0 325.6 L443.1 326.7 L445.1 327.9 L447.1 329.0 L449.1 330.1 L451.1 331.2 L453.1 332.3 L455.1 333.4 L457.1 334.4 L459.1 335.4 L459.3 335.5 L461.1 336.5 L463.1 337.5 L465.1 338.5 L467.1 339.4 L469.1 340.4 L471.1 341.4 L473.1 342.3 L475.1 343.2 L477.2 344.2 L478.6 344.8 L479.2 345.1 L481.2 346.0 L483.2 346.8 L485.2 347.7 L487.2 348.6 L489.2 349.4 L491.2 350.3 L493.2 351.1 L495.2 351.9 L497.2 352.7 L497.8 353.0 L499.2 353.5 L501.2 354.3 L503.2 355.1 L505.2 355.9 L507.2 356.6 L509.2 357.4 L511.3 358.1 L513.3 358.8 L515.3 359.6 L517.3 360.3 L519.3 361.0 L521.3 361.7 L523.3 362.4 L525.3 363.0 L527.3 363.7 L528.6 364.1 L529.3 364.4 L531.3 365.0 L533.3 365.7 L535.3 366.3 L537.3 366.9 L539.3 367.6 L541.3 368.2 L543.3 368.8 L545.4 369.4 L547.4 370.0 L549.4 370.5 L551.4 371.1 L553.4 371.7 L555.4 372.2 L557.4 372.8 L559.4 373.4 L561.4 373.9 L563.4 374.4 L565.4 375.0 L567.1 375.4 L567.4 375.5 L569.4 376.0 L571.4 376.5 L573.4 377.0 L575.4 377.5 L577.4 378.0 L579.5 378.5 L581.5 379.0 L583.5 379.4 L585.5 379.9 L587.5 380.4 L589.5 380.8 L591.5 381.3 L593.5 381.8 L595.5 382.2 L597.5 382.6 L599.5 383.1 L601.5 383.5 L603.5 383.9 L605.5 384.4 L605.7 384.4 L607.5 384.8 L609.5 385.2 L611.5 385.6 L613.6 386.0 L615.6 386.4 L617.6 386.8 L619.6 387.2 L621.6 387.6 L623.6 388.0 L625.6 388.4 L627.6 388.8 L629.6 389.2 L630.0 389.3 L631.6 389.6 L633.6 389.9 L635.6 390.3 L637.6 390.7 L639.6 391.1 L641.6 391.4 L643.6 391.8 L645.6 392.2 L647.7 392.5 L649.7 392.9 L650.0 393.0 L651.7 393.3 L653.7 393.6 L655.7 394.0 L657.7 394.3 L659.7 394.7 L661.7 395.0 L663.7 395.4 L665.7 395.8 L667.7 396.1 L669.7 396.5 L671.7 396.8 L673.7 397.2 L675.7 397.5 L677.7 397.9 L679.7 398.2 L681.8 398.6 L683.8 398.9 L685.8 399.3 L687.8 399.6 L689.8 400.0 L691.8 400.3 L693.8 400.7 L695.8 401.0 L697.8 401.4 L704.6 398.0 L745.7 398.5 L793.3 400.1"/>
<path class="g" style="stroke-dasharray:13.85 6.63" d="M118.1 27.5 L120.1 28.0 L122.1 28.6 L124.1 29.1 L126.1 29.7 L128.1 30.3 L130.1 30.9 L132.1 31.5 L134.1 32.1 L136.1 32.7 L136.1 32.7 L138.1 33.3 L140.1 33.9 L142.1 34.5 L144.1 35.2 L146.1 35.8 L148.2 36.4 L150.0 37.0 L150.2 37.1 L152.2 37.7 L154.2 38.4 L156.2 39.1 L158.2 39.7 L160.2 40.4 L160.2 40.4 L162.2 41.1 L164.2 41.8 L166.2 42.5 L168.2 43.2 L170.2 43.9 L172.2 44.5 L174.2 45.2 L176.2 45.9 L178.2 46.6 L180.2 47.3 L182.2 48.1 L184.2 48.8 L184.3 48.8 L186.2 49.5 L188.2 50.2 L190.2 50.9 L192.2 51.6 L194.2 52.3 L196.2 53.0 L198.2 53.7 L200.0 54.3 L200.2 54.4 L202.2 55.1 L204.3 55.8 L206.3 56.5 L208.3 57.3 L210.3 58.0 L212.3 58.7 L214.3 59.5 L214.5 59.6 L216.3 60.3 L218.3 61.1 L220.3 61.9 L222.3 62.8 L224.3 63.7 L226.3 64.6 L228.3 65.6 L228.9 65.9 L230.3 66.6 L232.3 67.7 L234.3 68.8 L236.3 69.9 L238.3 71.1 L240.3 72.4 L242.3 73.7 L243.4 74.5 L244.3 75.1 L246.3 76.6 L248.3 78.1 L250.3 79.7 L252.3 81.4 L254.3 83.2 L256.3 85.0 L257.8 86.4 L258.3 86.9 L260.4 88.9 L262.4 91.1 L264.4 93.3 L265.1 94.2 L266.4 95.8 L268.4 98.4 L270.4 101.3 L272.3 104.2 L272.4 104.3 L274.4 107.6 L276.4 111.2 L278.4 114.9 L279.5 117.0 L280.4 118.7 L282.4 122.5 L284.4 126.5 L286.4 130.6 L288.4 134.7 L289.3 136.6 L290.4 139.0 L292.4 143.4 L294.4 147.9 L296.4 152.5 L298.4 157.0 L298.9 158.1 L300.4 161.6 L302.4 166.1 L304.4 170.6 L306.4 175.1 L308.4 179.4 L310.4 183.6 L311.2 185.1 L312.4 187.6 L314.4 191.5 L316.5 195.3 L318.5 198.9 L320.5 202.4 L322.5 205.7 L324.5 209.1 L326.5 212.3 L328.5 215.4 L328.6 215.6 L330.5 218.5 L332.5 221.6 L334.5 224.6 L336.5 227.6 L338.5 230.5 L340.5 233.4 L342.5 236.2 L344.5 239.0 L346.5 241.7 L347.8 243.4 L348.5 244.4 L350.5 247.0 L352.5 249.6 L354.5 252.1 L356.5 254.6 L358.5 257.1 L360.5 259.5 L362.5 261.8 L364.5 264.2 L366.5 266.4 L367.1 267.1 L368.5 268.7 L370.5 270.9 L372.6 273.1 L374.6 275.2 L376.6 277.3 L378.6 279.3 L380.6 281.3 L382.6 283.3 L384.6 285.3 L386.4 287.0 L386.6 287.2 L388.6 289.0 L390.6 290.9 L392.6 292.7 L394.6 294.5 L396.6 296.2 L398.6 297.9 L400.6 299.6 L402.6 301.3 L404.6 302.9 L405.7 303.8 L406.6 304.5 L408.6 306.1 L410.6 307.6 L412.6 309.1 L414.6 310.6 L416.6 312.1 L418.6 313.5 L420.6 315.0 L422.6 316.4 L424.6 317.7 L424.9 317.9 L426.6 319.1 L428.7 320.4 L430.7 321.7 L432.7 323.0 L434.7 324.3 L436.7 325.5 L438.7 326.8 L440.0 327.6 L440.7 328.0 L442.7 329.2 L444.7 330.3 L446.7 331.5 L448.7 332.6 L450.7 333.8 L452.7 334.9 L454.7 335.9 L456.7 337.0 L458.7 338.1 L459.3 338.4 L460.7 339.1 L462.7 340.1 L464.7 341.1 L466.7 342.1 L468.7 343.1 L470.7 344.0 L472.7 345.0 L474.7 345.9 L476.7 346.8 L478.6 347.7 L478.7 347.7 L480.7 348.6 L482.7 349.5 L484.8 350.4 L486.8 351.2 L488.8 352.1 L490.8 352.9 L492.8 353.7 L494.8 354.5 L496.8 355.3 L497.8 355.7 L498.8 356.1 L500.8 356.9 L502.8 357.6 L504.8 358.4 L506.8 359.1 L508.8 359.9 L510.8 360.6 L512.8 361.3 L514.8 362.0 L516.8 362.7 L518.8 363.4 L520.8 364.1 L522.8 364.7 L524.8 365.4 L526.8 366.0 L528.6 366.6 L528.8 366.7 L530.8 367.3 L532.8 367.9 L534.8 368.5 L536.8 369.1 L538.8 369.7 L540.9 370.3 L542.9 370.9 L544.9 371.5 L546.9 372.0 L548.9 372.6 L550.9 373.1 L552.9 373.7 L554.9 374.2 L556.9 374.7 L558.9 375.2 L560.9 375.7 L562.9 376.2 L564.9 376.7 L566.9 377.2 L567.1 377.2 L568.9 377.7 L570.9 378.1 L572.9 378.6 L574.9 379.0 L576.9 379.5 L578.9 379.9 L580.9 380.3 L582.9 380.8 L584.9 381.2 L586.9 381.6 L588.9 382.0 L590.9 382.4 L592.9 382.8 L594.9 383.1 L597.0 383.5 L599.0 383.9 L601.0 384.2 L603.0 384.6 L605.0 384.9 L605.7 385.1 L607.0 385.3 L609.0 385.6 L611.0 385.9 L613.0 386.3 L615.0 386.6 L617.0 386.9 L619.0 387.2 L621.0 387.5 L623.0 387.8 L625.0 388.1 L627.0 388.4 L629.0 388.6 L630.0 388.8 L631.0 388.9 L633.0 389.2 L635.0 389.4 L637.0 389.7 L639.0 389.9 L641.0 390.2 L643.0 390.4 L645.0 390.7 L647.0 390.9 L649.0 391.1 L651.0 391.3 L653.1 391.6 L655.1 391.8 L657.1 392.0 L659.1 392.2 L661.1 392.4 L663.1 392.6 L665.1 392.8 L667.1 393.0 L668.6 393.1 L669.1 393.2 L671.1 393.3 L673.1 393.5 L675.1 393.7 L677.1 393.9 L679.1 394.0 L681.1 394.2 L683.1 394.3 L685.1 394.5 L687.1 394.7 L689.1 394.8 L691.1 395.0 L693.1 395.1 L695.1 395.2 L697.1 395.4 L699.1 395.5 L701.1 395.6 L703.1 395.8 L705.1 395.9 L707.1 396.0 L707.1 396.0 L709.2 396.1 L711.2 396.3 L713.2 396.4 L715.2 396.5 L717.2 396.6 L719.2 396.7 L721.2 396.8 L723.2 396.9 L725.2 397.0 L727.2 397.1 L729.2 397.3 L731.2 397.4 L733.2 397.5 L735.2 397.6 L737.2 397.6 L739.2 397.7 L741.2 397.8 L743.2 397.9 L745.2 398.0 L745.7 398.0 L747.2 398.1 L749.2 398.2 L751.2 398.3 L753.2 398.4 L755.2 398.5 L757.2 398.6 L759.2 398.6 L761.2 398.7 L763.2 398.8 L765.3 398.9 L767.3 399.0 L769.3 399.1 L771.3 399.2 L773.3 399.2 L775.3 399.3 L777.3 399.4 L779.3 399.5 L781.3 399.6 L783.3 399.7 L785.3 399.7 L787.3 399.8 L789.3 399.9 L791.3 400.0 L793.3 400.1"/>
</g>
<g id="bottom-panel">
<path class="r" d="M118.3 447.0 L120.3 448.2 L122.3 449.5 L124.3 450.7 L126.3 451.9 L128.3 453.1 L130.3 454.3 L132.3 455.5 L134.3 456.6 L136.3 457.8 L138.3 458.9 L138.6 459.1 L140.3 460.1 L142.3 461.2 L144.3 462.3 L146.3 463.4 L148.3 464.5 L150.3 465.6 L152.3 466.7 L154.3 467.8 L156.3 468.9 L157.8 469.7 L158.3 470.0 L160.3 471.1 L162.3 472.3 L164.3 473.4 L166.3 474.6 L168.4 475.7 L170.4 476.9 L172.4 478.1 L174.4 479.3 L176.4 480.5 L177.1 480.9 L178.4 481.7 L180.4 482.9 L182.4 484.1 L184.4 485.3 L186.4 486.5 L188.4 487.8 L190.4 489.0 L192.4 490.3 L194.4 491.5 L196.4 492.8 L196.4 492.8 L198.4 494.1 L200.4 495.3 L202.4 496.6 L204.4 497.9 L206.4 499.2 L208.4 500.5 L210.4 501.8 L212.4 503.1 L214.4 504.5 L215.7 505.4 L216.4 505.9 L218.4 507.3 L220.4 508.7 L222.4 510.2 L224.4 511.7 L226.4 513.2 L228.4 514.7 L230.4 516.2 L232.4 517.8 L234.4 519.4 L234.9 519.8 L236.4 521.0 L238.4 522.7 L240.4 524.5 L242.4 526.3 L244.4 528.1 L246.4 529.9 L248.4 531.7 L250.4 533.5 L252.4 535.3 L254.4 537.1 L256.4 538.8 L257.8 540.0 L258.4 540.6 L260.4 542.3 L262.4 544.1 L264.5 545.7 L266.4 547.0 L266.5 547.0 L268.5 548.0 L270.5 548.7 L272.5 549.5 L274.1 550.2 L274.5 550.4 L276.5 551.4 L278.5 552.6 L280.5 553.8 L282.0 554.7 L282.5 555.0 L284.5 556.2 L286.5 557.5 L288.5 558.9 L290.5 560.4 L290.5 560.4 L292.5 562.1 L294.5 564.0 L296.5 565.9 L297.0 566.4 L298.5 567.8 L300.5 569.8 L302.5 571.8 L303.0 572.3 L304.5 573.7 L306.5 575.5 L308.5 577.3 L310.5 579.1 L312.5 580.8 L314.5 582.6 L316.5 584.3 L318.4 586.0 L318.5 586.1 L320.5 587.9 L322.5 589.6 L324.5 591.4 L326.5 593.1 L328.5 594.8 L330.5 596.6 L332.5 598.3 L334.5 600.1 L336.5 601.8 L338.5 603.7 L340.5 605.5 L342.5 607.4 L344.5 609.3 L344.6 609.4 L346.5 611.4 L348.5 613.5 L350.5 615.7 L352.5 618.0 L354.5 620.2 L356.5 622.3 L358.5 624.4 L359.3 625.1 L360.6 626.3 L362.6 628.1 L364.6 629.8 L366.6 631.5 L368.6 633.2 L370.6 634.8 L372.6 636.4 L374.6 638.1 L376.6 639.7 L378.6 641.4 L378.6 641.4 L380.6 643.1 L382.6 644.8 L384.6 646.4 L386.6 648.1 L388.6 649.8 L390.6 651.5 L392.6 653.2 L394.6 655.0 L396.6 656.7 L397.8 657.8 L398.6 658.5 L400.6 660.4 L402.6 662.3 L404.6 664.2 L406.6 666.2 L408.6 668.2 L410.6 670.1 L412.6 672.0 L414.6 673.9 L416.6 675.7 L417.1 676.1 L418.6 677.4 L420.6 679.1 L422.6 680.8 L424.6 682.4 L426.6 683.8 L426.7 683.9 L428.6 685.1 L430.6 686.3 L432.6 687.4 L434.6 688.5 L436.4 689.6 L436.6 689.7 L438.6 691.0 L440.6 692.3 L442.6 693.7 L444.6 695.2 L446.0 696.4 L446.6 697.0 L448.6 699.2 L450.6 701.7 L452.6 704.3 L454.6 706.8 L455.7 708.0 L456.7 709.0 L458.7 711.2 L460.7 713.4 L462.7 715.5 L464.7 717.5 L466.7 719.6 L468.7 721.5 L470.7 723.4 L472.7 725.2 L474.7 727.0 L474.9 727.2 L476.7 728.7 L478.7 730.3 L480.7 731.8 L482.7 733.3 L484.7 734.7 L486.7 736.2 L487.8 737.0 L488.7 737.7 L490.7 739.2 L492.7 740.7 L494.7 742.3 L496.7 743.9 L498.7 745.4 L500.7 746.8 L502.7 748.2 L504.7 749.5 L506.7 750.6 L507.1 750.8 L508.7 751.6 L510.7 752.6 L512.7 753.5 L514.7 754.4 L516.7 755.2 L518.7 756.0 L520.7 756.7 L522.7 757.4 L524.7 758.1 L526.4 758.6 L526.7 758.7 L528.7 759.3 L530.7 759.9 L532.7 760.4 L534.7 761.0 L536.7 761.5 L538.7 761.9 L540.7 762.4 L542.7 762.8 L544.7 763.2 L545.7 763.4 L546.7 763.6 L548.7 764.0 L550.7 764.3 L552.8 764.7 L554.8 765.0 L556.8 765.4 L558.8 765.7 L560.8 765.9 L562.8 766.1 L564.8 766.3 L564.9 766.3 L566.8 766.4 L568.8 766.6 L570.8 766.7 L572.8 766.8 L574.8 766.9 L576.8 767.0 L578.8 767.1 L580.8 767.1 L582.8 767.2 L584.8 767.3 L586.8 767.3 L588.8 767.4 L590.0 767.4 L590.8 767.4 L592.8 767.5 L594.8 767.5 L596.8 767.5 L598.8 767.6 L600.8 767.6 L602.8 767.6 L604.8 767.7 L606.8 767.7 L608.8 767.7 L610.8 767.8 L612.8 767.8 L614.8 767.8 L616.8 767.8 L618.8 767.8 L620.0 767.8 L620.8 767.8 L622.8 767.8 L624.8 767.8 L626.8 767.8 L628.8 767.8 L630.8 767.8 L632.8 767.8 L634.8 767.8 L636.8 767.8 L638.8 767.8 L640.8 767.8 L642.8 767.8 L644.8 767.8 L646.8 767.8 L648.9 767.8 L650.9 767.8 L652.9 767.8 L654.9 767.8 L656.9 767.8 L658.9 767.8 L660.9 767.8 L662.9 767.8 L664.9 767.8 L666.9 767.8 L668.9 767.8 L670.9 767.8 L672.9 767.8 L674.9 767.8 L676.9 767.8 L678.9 767.8 L680.9 767.8 L682.9 767.8 L684.9 767.8 L686.9 767.8 L688.9 767.8 L690.9 767.8 L692.9 767.8 L694.9 767.8 L696.9 767.8 L698.9 767.8 L700.9 767.8 L702.9 767.8 L704.9 767.8 L706.9 767.8 L708.9 767.8 L710.9 767.8 L712.9 767.8 L714.9 767.8 L716.9 767.8 L718.9 767.8 L720.9 767.8 L722.9 767.8 L724.9 767.8 L726.9 767.8 L728.9 767.8 L730.9 767.8 L732.9 767.8 L734.9 767.8 L736.9 767.8 L738.9 767.8 L740.9 767.8 L742.9 767.8 L745.0 767.8 L747.0 767.8 L749.0 767.8 L751.0 767.8 L753.0 767.8 L755.0 767.8 L757.0 767.8 L759.0 767.8 L761.0 767.8 L763.0 767.8 L765.0 767.8 L767.0 767.8 L769.0 767.8 L771.0 767.8 L773.0 767.8 L775.0 767.8 L777.0 767.8 L779.0 767.8 L781.0 767.8 L783.0 767.8 L785.0 767.8 L787.0 767.8 L789.0 767.8 L791.0 767.8 L793.0 767.8"/>
<path class="b" style="stroke-width:1.4" d="M118.3 447.0 L120.3 448.2 L122.3 449.5 L124.3 450.7 L126.3 451.9 L128.3 453.1 L130.3 454.3 L132.3 455.4 L134.3 456.6 L136.3 457.8 L138.3 458.9 L138.6 459.1 L140.3 460.1 L142.3 461.2 L144.3 462.3 L146.3 463.4 L148.3 464.5 L150.3 465.6 L152.3 466.7 L154.3 467.8 L156.3 468.9 L157.8 469.7 L158.3 470.0 L160.3 471.1 L162.3 472.3 L164.3 473.4 L166.3 474.6 L168.3 475.7 L170.3 476.9 L172.3 478.1 L174.3 479.3 L176.3 480.4 L177.1 480.9 L178.3 481.6 L180.3 482.8 L182.3 484.1 L184.3 485.3 L186.3 486.5 L188.3 487.8 L190.3 489.0 L192.3 490.2 L194.4 491.5 L196.4 492.8 L196.4 492.8 L198.4 494.0 L200.4 495.3 L202.4 496.6 L204.4 497.9"/>
<path class="b" style="stroke-width:1.9" d="M204.4 497.9 L206.4 499.1 L208.4 500.4 L210.4 501.8 L212.4 503.1 L214.4 504.5 L215.7 505.4 L216.4 505.9 L218.4 507.3 L220.4 508.7 L222.4 510.2 L224.4 511.6 L226.4 513.1 L228.4 514.7 L230.4 516.2 L232.4 517.8 L234.4 519.4 L234.9 519.8 L236.4 521.0 L238.4 522.7 L240.4 524.4 L242.4 526.2 L244.4 528.0 L246.4 529.8 L248.4 531.6 L250.4 533.4 L252.4 535.2 L254.4 537.0 L256.4 538.8 L257.8 540.0 L258.4 540.5 L260.4 542.2 L262.4 543.9 L264.4 545.6 L266.4 547.3"/>
<path class="b" d="M266.4 547.3 L268.4 549.0 L270.4 550.7 L272.4 552.4 L274.4 554.1 L276.4 555.7 L277.1 556.3 L278.4 557.4 L280.4 558.9 L282.4 560.5 L284.4 562.0 L286.4 563.5 L288.4 565.0 L290.4 566.5 L292.5 568.1 L294.5 569.7 L296.4 571.3 L296.5 571.3 L298.5 573.1 L300.5 574.9 L302.5 576.8 L304.5 578.7 L306.5 580.6 L308.5 582.5 L310.5 584.5 L312.5 586.5 L314.5 588.4 L314.5 588.4 L316.5 590.3 L318.5 592.3 L320.5 594.2 L322.5 596.1 L324.5 598.1 L326.5 600.1 L328.5 602.1 L328.9 602.5 L330.5 604.2 L332.5 606.2 L334.5 608.3 L336.5 610.4 L338.5 612.6 L340.5 614.7 L342.5 616.8 L343.4 617.7 L344.6 618.9 L346.6 621.1 L348.6 623.2 L350.6 625.3 L352.6 627.5 L354.6 629.6 L355.0 630.0 L356.6 631.6 L358.6 633.6 L360.6 635.5 L362.6 637.5 L364.5 639.5 L364.6 639.6 L366.6 641.8 L368.6 644.0 L370.6 646.3 L372.6 648.6 L374.6 651.0 L376.6 653.4 L378.6 655.9 L378.9 656.2 L380.6 658.4 L382.6 661.0 L384.6 663.6 L386.6 666.3 L388.6 669.0 L390.0 670.8 L390.6 671.6 L392.6 674.2 L394.6 676.8 L396.7 679.4 L398.7 682.0 L400.7 684.6 L402.7 687.2 L404.5 689.6 L404.7 689.8 L406.7 692.4 L408.7 695.0 L410.7 697.6 L411.7 699.0 L412.7 700.3 L414.7 703.1 L416.7 706.0 L418.7 708.9 L418.9 709.2 L420.7 711.9 L422.7 715.1 L424.7 718.3 L426.7 721.6 L427.2 722.4 L428.7 725.0 L430.7 728.5 L432.7 732.1 L434.5 735.4 L434.7 735.8 L436.7 739.7 L438.7 743.6 L440.7 747.4 L441.7 749.2 L442.7 751.0 L444.7 754.3 L446.7 757.5 L448.8 760.9 L449.6 762.5 L450.8 764.8 L452.8 769.1 L454.8 773.7 L456.8 778.5 L458.8 783.4 L459.3 784.7 L460.8 788.2 L462.8 793.0 L464.8 797.9 L466.8 803.3 L468.8 809.4 L468.9 809.8 L470.8 817.0 L472.8 825.8 L472.8 825.8 L479.5 838.2 L486.4 835.2 L488.5 822.2 L490.9 805.9 L493.3 795.7 L496.3 788.4 L499.9 781.8 L507.5 776.0 L520.0 772.7 L526.4 771.1 L545.7 769.2 L564.9 768.2 L600.0 767.8 L793.0 767.8"/>
<path class="b" d="M266.4 547.3 L268.4 548.8 L270.4 550.2 L272.4 551.7 L274.5 553.2 L276.5 554.7 L277.1 555.2 L278.5 556.2 L280.5 557.7 L282.5 559.2 L284.5 560.7 L286.5 562.2 L288.5 563.7 L290.6 565.2 L292.6 566.8 L294.6 568.5 L296.4 570.0 L296.6 570.2 L298.6 572.0 L300.6 573.8 L302.6 575.8 L304.7 577.8 L306.7 579.8 L308.7 581.8 L310.7 583.9 L312.7 585.9 L314.5 587.6 L314.7 587.8 L316.7 589.8 L318.8 591.7 L320.8 593.6 L322.8 595.6 L324.8 597.5 L326.8 599.4 L328.8 601.3 L328.9 601.4 L330.8 603.2 L332.8 605.1 L334.9 607.0 L336.9 608.9 L338.9 610.8 L340.9 612.7 L342.9 614.6 L343.4 615.1 L344.9 616.6 L346.9 618.5 L349.0 620.5 L350.0 621.5 L351.0 622.5 L353.0 624.5 L355.0 626.6 L357.0 628.7 L359.0 630.8 L361.0 632.9 L363.1 634.9 L364.5 636.4 L365.1 637.0 L367.1 638.9 L369.1 640.9 L371.1 642.8 L373.1 644.7 L375.1 646.6 L377.1 648.6 L378.9 650.4 L379.2 650.7 L381.2 652.8 L383.2 654.9 L385.2 657.1 L387.2 659.3 L389.2 661.6 L391.2 663.8 L393.3 666.1 L393.4 666.3 L395.3 668.5 L397.3 670.9 L399.3 673.3 L401.3 675.7 L403.3 678.1 L404.5 679.5 L405.3 680.5 L407.4 682.8 L409.4 685.1 L411.4 687.4 L413.4 689.7 L415.4 692.0 L417.4 694.4 L418.9 696.2 L419.4 696.9 L421.4 699.4 L423.5 702.1 L425.5 704.8 L427.2 707.2 L427.5 707.6 L429.5 710.5 L431.5 713.5 L433.5 716.6 L434.5 718.1 L435.5 719.7 L437.6 722.9 L439.6 726.1 L441.6 729.4 L441.7 729.6 L443.6 732.8 L445.6 736.3 L447.6 739.8 L448.9 741.9 L449.6 743.1 L451.7 746.3 L453.7 749.5 L455.7 752.7 L456.2 753.5 L457.7 755.9 L459.7 759.0 L461.7 762.2 L463.7 765.7 L464.1 766.4 L465.8 769.7 L467.8 774.3 L469.8 779.1 L471.8 784.0 L473.7 788.6 L473.8 788.8 L475.8 793.6 L477.8 798.5 L479.8 803.4 L481.9 808.1 L483.4 811.7 L483.9 812.8 L485.9 817.2 L487.9 821.6 L487.9 821.6 L492.7 834.2 L499.9 840.2 L507.2 837.8 L510.8 828.2 L515.0 810.1 L518.0 795.7 L520.4 787.8 L525.8 780.0 L536.0 774.0 L545.7 771.5 L564.9 769.2 L584.2 768.2 L620.0 767.8 L793.0 767.8"/>
<path class="b" d="M266.4 547.3 L268.4 548.5 L270.4 549.7 L272.4 550.9 L274.4 552.2 L276.4 553.5 L277.1 554.0 L278.4 554.9 L280.4 556.3 L282.4 557.7 L284.5 559.2 L286.5 560.7 L288.5 562.2 L290.5 563.8 L292.5 565.4 L294.5 567.1 L296.4 568.7 L296.5 568.8 L298.5 570.6 L300.5 572.5 L302.5 574.4 L304.5 576.4 L306.5 578.5 L308.5 580.6 L310.5 582.6 L312.5 584.7 L314.5 586.6 L314.5 586.6 L316.5 588.6 L318.6 590.5 L320.6 592.4 L322.6 594.4 L324.6 596.3 L326.6 598.2 L328.6 600.1 L328.9 600.4 L330.6 602.0 L332.6 603.9 L334.6 605.8 L336.6 607.7 L338.6 609.6 L340.6 611.5 L342.6 613.4 L343.4 614.1 L344.6 615.3 L346.6 617.2 L348.6 619.1 L350.0 620.4 L350.7 621.0 L352.7 623.1 L354.7 625.1 L356.7 627.2 L358.7 629.3 L360.7 631.3 L362.7 633.4 L364.5 635.2 L364.7 635.4 L366.7 637.3 L368.7 639.2 L370.7 641.1 L372.7 643.0 L374.7 644.9 L376.7 646.8 L378.7 648.7 L378.9 648.9 L380.7 650.7 L382.7 652.8 L384.8 654.9 L386.8 656.9 L388.8 659.1 L390.8 661.2 L392.8 663.4 L393.4 664.1 L394.8 665.7 L396.8 668.0 L398.8 670.3 L400.8 672.7 L402.8 675.1 L404.5 677.0 L404.8 677.3 L406.8 679.5 L408.8 681.7 L410.8 683.8 L412.8 685.9 L414.8 688.0 L416.8 690.2 L418.9 692.4 L418.9 692.5 L420.9 694.8 L422.9 697.3 L424.9 699.8 L426.9 702.3 L428.9 704.9 L430.9 707.4 L432.9 710.0 L433.4 710.6 L434.9 712.5 L436.9 714.9 L438.9 717.4 L440.9 719.9 L441.7 721.0 L442.9 722.7 L444.9 725.7 L446.9 728.8 L448.9 731.8 L448.9 731.9 L451.0 734.9 L453.0 737.9 L455.0 740.8 L456.2 742.7 L457.0 743.9 L459.0 746.9 L461.0 750.0 L463.0 752.9 L463.4 753.5 L465.0 755.6 L467.0 758.0 L469.0 760.4 L471.0 762.8 L473.0 765.4 L473.7 766.4 L475.0 768.4 L477.0 771.7 L479.0 775.3 L481.0 779.0 L483.0 783.0 L483.4 783.7 L485.1 787.2 L487.1 791.7 L489.1 796.5 L491.1 801.3 L493.0 805.9 L493.1 806.1 L495.1 810.7 L497.1 815.3 L499.1 820.0 L501.1 824.6 L501.1 824.6 L507.2 835.4 L513.8 840.6 L519.8 839.0 L527.7 831.8 L530.1 818.6 L532.5 804.1 L534.3 795.7 L539.7 783.6 L542.1 780.0 L547.6 775.9 L557.2 772.4 L574.6 769.7 L590.0 768.6 L640.0 767.8 L793.0 767.8"/>
<path class="b" d="M266.4 547.3 L268.4 548.2 L270.4 549.1 L272.4 550.2 L274.4 551.3 L276.4 552.4 L277.1 552.8 L278.4 553.6 L280.4 554.9 L282.5 556.3 L284.5 557.7 L286.5 559.2 L288.5 560.8 L290.5 562.4 L292.5 564.1 L294.5 565.8 L296.4 567.4 L296.5 567.5 L298.5 569.3 L300.5 571.2 L302.5 573.2 L304.5 575.3 L306.5 577.4 L308.5 579.5 L310.5 581.6 L312.5 583.7 L314.5 585.6 L314.6 585.7 L316.6 587.6 L318.6 589.6 L320.6 591.5 L322.6 593.4 L324.6 595.3 L326.6 597.2 L328.6 599.1 L328.9 599.4 L330.6 601.0 L332.6 602.9 L334.6 604.8 L336.6 606.7 L338.6 608.6 L340.6 610.5 L342.6 612.4 L343.4 613.1 L344.7 614.3 L346.7 616.2 L348.7 618.1 L350.0 619.4 L350.7 620.1 L352.7 622.1 L354.7 624.1 L356.7 626.1 L358.7 628.2 L360.7 630.2 L362.7 632.2 L364.5 634.0 L364.7 634.2 L366.7 636.2 L368.7 638.1 L370.7 640.0 L372.7 641.9 L374.8 643.9 L376.8 645.8 L378.8 647.7 L378.9 647.8 L380.8 649.6 L382.8 651.5 L384.8 653.4 L386.8 655.3 L388.8 657.2 L390.8 659.1 L392.8 661.0 L393.4 661.6 L394.8 663.0 L396.8 664.9 L398.8 666.9 L400.8 668.9 L402.8 670.9 L404.5 672.5 L404.8 672.8 L406.9 674.9 L408.9 676.9 L410.9 678.9 L412.9 680.9 L414.9 682.9 L416.9 685.0 L418.9 687.1 L418.9 687.1 L420.9 689.2 L422.9 691.4 L424.9 693.6 L426.9 695.8 L428.9 698.0 L430.9 700.1 L432.9 702.2 L433.4 702.7 L434.9 704.2 L437.0 706.1 L439.0 708.0 L441.0 710.0 L441.7 710.8 L443.0 712.2 L445.0 714.5 L447.0 716.9 L448.9 719.2 L449.0 719.3 L451.0 721.7 L453.0 724.2 L455.0 726.7 L456.2 728.2 L457.0 729.2 L459.0 731.8 L461.0 734.4 L463.0 737.1 L463.4 737.6 L465.0 739.9 L467.1 742.7 L469.1 745.5 L470.6 747.7 L471.1 748.3 L473.1 751.1 L475.1 753.9 L477.1 756.8 L477.8 757.8 L479.1 759.7 L481.1 762.8 L483.1 765.9 L483.4 766.4 L485.1 769.2 L487.1 772.5 L489.1 775.9 L491.1 779.4 L493.0 782.8 L493.1 783.0 L495.1 786.8 L497.1 790.6 L499.2 794.6 L501.2 798.7 L502.7 802.0 L503.2 803.0 L505.2 807.5 L507.2 812.1 L509.2 816.9 L511.2 821.9 L513.2 827.0 L513.2 827.0 L519.2 836.6 L527.0 841.4 L534.3 838.4 L540.9 824.6 L543.9 810.1 L545.7 800.5 L547.5 792.0 L554.2 783.0 L557.8 780.0 L564.9 775.9 L576.5 773.0 L590.0 771.1 L620.0 769.0 L660.0 767.9 L793.0 767.8"/>
<path class="k" d="M118.3 452.7 L120.3 453.7 L122.3 454.8 L124.3 455.8 L126.4 456.9 L128.4 458.0 L130.4 459.1 L132.4 460.3 L134.4 461.4 L136.4 462.6 L138.4 463.8 L138.6 463.9 L140.5 465.0 L142.5 466.3 L144.5 467.5 L146.5 468.8 L148.5 470.1 L150.5 471.5 L152.6 472.8 L154.6 474.2 L156.6 475.6 L157.8 476.4 L158.6 477.0 L160.6 478.4 L162.6 479.8 L164.6 481.3 L166.7 482.8 L168.7 484.3 L170.7 485.9 L172.7 487.4 L174.7 489.0 L176.7 490.6 L177.1 490.9 L178.8 492.2 L180.8 493.9 L182.8 495.6 L184.8 497.3 L186.8 499.0 L188.8 500.8 L190.8 502.5 L192.9 504.3 L194.9 506.0 L196.4 507.3 L196.9 507.7 L198.9 509.4 L200.9 511.0 L202.9 512.7 L204.9 514.4 L207.0 516.1 L209.0 517.8 L211.0 519.6 L212.0 520.5 L213.0 521.5 L215.0 523.5 L217.0 525.6 L219.1 527.7 L221.1 530.0 L223.1 532.2 L225.1 534.4 L227.1 536.6 L229.1 538.7 L231.1 540.7 L233.2 542.5 L233.4 542.7 L235.2 544.1 L237.2 545.6 L239.2 546.9 L241.2 548.3 L243.2 549.7 L245.2 551.3 L246.6 552.5 L247.3 553.1 L249.3 555.3 L251.3 557.8 L252.7 559.5 L253.3 560.3 L255.3 562.9 L257.3 565.7 L259.4 568.5 L261.4 571.3 L262.3 572.5 L263.4 573.9 L265.4 576.3 L267.4 578.7 L269.4 581.1 L271.4 583.4 L273.5 585.8 L275.5 588.2 L277.1 590.3 L277.5 590.8 L279.5 593.4 L281.5 596.1 L283.5 598.9 L285.5 601.7 L287.6 604.5 L289.6 607.4 L291.6 610.3 L293.6 613.1 L295.6 616.0 L296.4 617.1 L297.6 618.9 L299.7 621.8 L301.7 624.8 L303.7 627.8 L305.7 630.7 L307.7 633.5 L309.7 636.2 L309.9 636.4 L311.7 638.6 L313.8 640.8 L315.8 642.9 L317.8 645.0 L319.8 647.2 L321.8 649.7 L323.4 651.8 L323.8 652.4 L325.8 655.7 L327.9 659.5 L329.9 663.5 L331.9 667.5 L333.9 671.3 L334.9 673.0 L335.9 674.7 L337.9 677.8 L339.9 680.8 L340.2 681.2 L342.0 683.8 L344.0 686.6 L346.0 689.3 L348.0 692.3 L350.0 695.4 L351.2 697.5 L352.0 699.1 L354.1 703.2 L356.1 707.8 L358.1 712.8 L360.1 718.1 L360.1 718.1 L368.6 736.1 L377.0 753.0 L384.2 761.4 L391.4 765.4 L401.7 767.5 L408.0 767.8 L793.0 767.8"/>
<path class="k" d="M118.3 457.7 L120.3 458.6 L122.3 459.6 L124.3 460.6 L126.3 461.7 L128.4 462.8 L130.4 463.9 L132.4 465.0 L134.4 466.2 L136.4 467.4 L138.4 468.6 L138.6 468.7 L140.4 469.8 L142.4 471.1 L144.5 472.5 L146.5 473.8 L148.5 475.2 L150.5 476.7 L152.5 478.1 L154.5 479.7 L156.5 481.2 L157.8 482.2 L158.5 482.8 L160.5 484.4 L162.6 486.2 L164.6 487.9 L166.6 489.7 L168.6 491.6 L170.6 493.5 L172.6 495.4 L174.6 497.3 L176.6 499.2 L177.1 499.6 L178.7 501.1 L180.7 503.0 L182.7 505.0 L184.7 506.9 L186.7 508.9 L188.7 510.9 L190.7 513.0 L192.7 515.0 L194.8 517.1 L196.8 519.2 L197.5 520.0 L198.8 521.4 L200.8 523.6 L202.8 526.0 L204.8 528.4 L206.8 530.9 L208.8 533.4 L210.8 535.8 L212.9 538.1 L214.9 540.3 L216.9 542.4 L218.9 544.3 L220.1 545.3 L220.9 545.9 L222.9 547.3 L224.9 548.5 L226.9 549.8 L229.0 551.2 L229.8 551.9 L231.0 553.0 L233.0 555.2 L235.0 557.6 L235.8 558.6 L237.0 560.2 L239.0 563.0 L241.0 565.9 L243.0 569.1 L245.0 572.2 L247.1 575.4 L247.8 576.6 L249.1 578.6 L251.1 581.9 L253.1 585.2 L255.1 588.6 L257.1 592.0 L259.1 595.4 L261.1 598.8 L262.3 600.7 L263.2 602.1 L265.2 605.5 L267.2 608.8 L269.2 612.2 L271.2 615.5 L273.2 618.8 L275.2 621.9 L277.1 624.8 L277.2 625.0 L279.3 627.9 L281.3 630.5 L283.3 633.2 L285.3 636.1 L286.7 638.3 L287.3 639.3 L289.3 642.9 L291.3 646.8 L293.3 651.0 L295.3 655.3 L297.0 659.0 L297.4 659.8 L299.4 664.7 L301.4 669.9 L303.4 675.2 L305.4 680.3 L307.4 684.9 L307.5 685.1 L309.4 688.8 L311.4 692.3 L313.5 695.8 L315.5 699.9 L316.1 701.4 L317.5 705.3 L319.5 712.2 L321.5 720.0 L321.5 720.0 L330.0 744.0 L336.0 758.0 L343.4 765.1 L351.5 767.3 L357.0 767.8 L793.0 767.8"/>
<path class="k" d="M118.3 462.6 L120.3 463.6 L122.3 464.6 L124.3 465.7 L126.3 466.8 L128.3 468.0 L130.3 469.2 L132.3 470.4 L134.3 471.7 L136.3 473.0 L138.3 474.3 L138.6 474.5 L140.3 475.7 L142.3 477.1 L144.3 478.6 L146.3 480.2 L148.4 481.8 L150.4 483.4 L152.4 485.1 L154.4 486.8 L156.4 488.6 L157.8 489.9 L158.4 490.4 L160.4 492.3 L162.4 494.3 L164.4 496.4 L166.4 498.5 L168.4 500.7 L170.4 502.8 L172.4 505.0 L174.4 507.3 L176.4 509.4 L177.1 510.2 L178.4 511.6 L180.4 513.8 L182.4 515.9 L184.4 518.1 L186.4 520.4 L188.4 522.7 L190.0 524.5 L190.4 525.0 L192.4 527.5 L194.4 530.2 L196.4 533.0 L198.4 535.8 L200.4 538.5 L202.4 541.1 L204.4 543.4 L206.3 545.3 L206.5 545.4 L208.5 547.1 L210.5 548.5 L212.5 549.9 L214.1 551.3 L214.5 551.6 L216.5 553.7 L218.5 556.1 L220.5 558.7 L221.3 559.8 L222.5 561.5 L224.5 564.5 L226.5 567.9 L228.5 571.3 L230.5 574.8 L232.2 577.8 L232.5 578.3 L234.5 581.7 L236.5 585.2 L238.5 588.7 L240.5 592.3 L242.5 596.1 L244.2 599.5 L244.5 600.2 L246.5 604.7 L248.5 609.5 L250.5 614.4 L252.5 619.1 L252.7 619.5 L254.5 623.6 L256.5 627.9 L257.8 630.6 L258.5 632.1 L260.5 636.1 L262.6 639.9 L264.6 643.7 L266.6 647.8 L267.5 649.9 L268.6 652.4 L270.6 657.4 L272.6 662.7 L274.6 668.1 L276.6 673.5 L277.1 674.9 L278.6 678.7 L280.6 683.8 L282.4 688.9 L282.6 689.5 L284.6 696.1 L286.6 703.4 L288.6 711.3 L290.6 720.0 L290.6 720.0 L301.9 757.6 L309.2 765.8 L314.9 767.5 L320.0 767.8 L793.0 767.8"/>
<path class="k" d="M118.3 467.8 L120.3 469.4 L122.3 471.0 L124.4 472.6 L126.4 474.2 L128.4 475.8 L130.4 477.5 L132.4 479.1 L134.4 480.8 L136.5 482.4 L138.5 484.1 L138.6 484.2 L140.5 485.8 L142.5 487.4 L144.5 489.0 L146.5 490.6 L148.6 492.2 L150.6 493.9 L152.6 495.6 L154.6 497.4 L156.6 499.3 L157.8 500.5 L158.7 501.4 L160.7 503.6 L162.7 505.9 L164.7 508.3 L166.7 510.8 L168.7 513.5 L170.8 516.1 L172.8 518.8 L174.8 521.5 L176.8 524.2 L177.1 524.6 L178.8 526.9 L180.9 529.7 L182.9 532.6 L184.9 535.5 L186.7 538.1 L186.9 538.4 L188.9 541.6 L190.9 544.8 L192.5 546.8 L193.0 547.3 L195.0 549.1 L197.0 550.6 L199.0 552.3 L200.2 553.6 L201.0 554.7 L203.0 558.0 L205.1 561.9 L207.1 566.0 L208.8 569.4 L209.1 570.0 L211.1 573.7 L213.1 577.5 L215.2 581.4 L217.2 585.2 L217.5 585.8 L219.2 589.0 L221.2 592.7 L223.2 596.4 L225.2 600.2 L227.3 604.1 L228.9 607.5 L229.3 608.3 L231.3 612.8 L233.3 617.5 L235.3 622.4 L237.4 627.4 L238.6 630.6 L239.4 632.6 L241.4 637.8 L243.4 643.2 L245.4 648.8 L247.4 654.5 L248.5 657.5 L249.5 660.3 L251.5 666.5 L253.5 672.7 L255.5 678.8 L256.3 681.0 L257.5 684.1 L259.3 688.9 L259.5 689.7 L261.6 697.8 L263.6 707.9 L265.6 720.0 L265.6 720.0 L275.4 755.7 L280.7 764.8 L288.0 767.6 L292.0 767.8 L793.0 767.8"/>
<path class="k" d="M118.3 467.8 L120.3 469.4 L122.3 471.0 L124.4 472.6 L126.4 474.2 L128.4 475.8 L130.4 477.5 L132.4 479.1 L134.4 480.8 L136.5 482.4 L138.5 484.1 L138.6 484.2 L140.5 485.8 L142.5 487.4 L144.5 489.0 L146.5 490.6 L148.6 492.2 L150.6 493.9 L152.6 495.6 L154.6 497.4 L156.6 499.3 L157.8 500.5 L158.7 501.4 L160.7 503.6 L162.7 505.9 L164.7 508.3 L166.7 510.8 L168.7 513.5 L170.8 516.1 L172.8 518.8 L174.8 521.5 L176.8 524.2 L177.1 524.6 L178.8 526.9 L180.9 529.7 L182.9 532.6 L184.9 535.5 L186.7 538.1 L186.9 538.4 L188.9 541.6 L190.9 544.8 L193.4 546.8 L193.9 547.3 L195.9 549.1 L197.9 550.6 L199.9 552.3 L201.1 553.6 L201.9 554.7 L203.9 558.0 L206.0 561.9 L208.0 566.0 L209.7 569.4 L210.0 570.0 L212.0 573.7 L214.0 577.5 L216.1 581.4 L218.1 585.2 L218.4 585.8 L220.1 589.0 L222.1 592.7 L224.1 596.4 L226.1 600.2 L228.2 604.1 L229.8 607.5 L230.2 608.3 L232.2 612.8 L234.2 617.5 L236.2 622.4 L238.3 627.4 L239.5 630.6 L240.3 632.6 L242.3 637.8 L244.3 643.2 L246.3 648.8 L248.3 654.5 L249.4 657.5 L250.4 660.3 L252.4 666.5 L254.4 672.7 L256.4 678.8 L257.2 681.0 L258.4 684.1 L260.2 688.9 L260.4 689.7 L262.5 697.8 L264.5 707.9 L266.5 720.0 L266.5 720.0 L276.3 755.7 L280.7 764.8 L288.0 767.6 L292.0 767.8"/>
<path class="g" d="M118.3 467.8 L120.3 469.4 L122.3 471.0 L124.4 472.6 L126.4 474.2 L128.4 475.8 L130.4 477.5 L132.4 479.1 L134.4 480.8 L136.5 482.4 L138.5 484.1 L138.6 484.2 L140.5 485.8 L142.5 487.4 L144.5 489.0 L146.5 490.6 L148.6 492.2 L150.6 493.9 L152.6 495.6 L154.6 497.4 L156.6 499.3 L157.8 500.5 L158.7 501.4 L160.7 503.6 L162.7 505.9 L164.7 508.3 L166.7 510.8 L168.7 513.5 L170.8 516.1 L172.8 518.8 L174.8 521.5 L176.8 524.2 L177.1 524.6 L178.8 526.9 L180.9 529.7 L182.9 532.6 L184.9 535.5 L186.7 538.1 L186.9 538.4 L188.9 541.6 L190.9 544.8 L192.5 546.8 L193.0 547.3 L195.0 549.1 L197.0 550.6 L199.0 552.3 L200.2 553.6 L201.0 554.7 L203.0 558.0 L205.1 561.9 L207.1 566.0 L208.8 569.4 L209.1 570.0 L211.1 573.7 L213.1 577.5 L215.2 581.4 L217.2 585.2 L217.5 585.8 L219.2 589.0 L221.2 592.7 L223.2 596.4 L225.2 600.2 L227.3 604.1 L228.9 607.5 L229.3 608.3 L231.3 612.8 L233.3 617.5 L235.3 622.4 L237.4 627.4 L238.6 630.6 L239.4 632.6 L241.4 637.8 L243.4 643.2 L245.4 648.8 L247.4 654.5 L248.5 657.5 L249.5 660.3 L251.5 666.5 L253.5 672.7 L255.5 678.8 L256.3 681.0 L257.5 684.1 L259.3 688.9 L259.5 689.7 L261.6 697.8 L263.6 707.9 L265.6 720.0 L265.6 720.0 L275.4 755.7 L280.7 764.8 L288.0 767.6 L292.0 767.8 L793.0 767.8"/>
</g>
<g id="frame">
<path class="f" d="M88.5 -0.1 H828.7 V858.9 H88.5 Z M88.5 429.4 H828.7"/>
<path class="f" d="M145.2 -0.1 V10.5 M145.2 418.8 V440.0 M145.2 848.3 V858.9 M287.6 -0.1 V10.5 M287.6 418.8 V440.0 M287.6 848.3 V858.9 M430.1 -0.1 V10.5 M430.1 418.8 V440.0 M430.1 848.3 V858.9 M572.5 -0.1 V10.5 M572.5 418.8 V440.0 M572.5 848.3 V858.9 M714.9 -0.1 V10.5 M714.9 418.8 V440.0 M714.9 848.3 V858.9 M88.5 68.7 H99.0 M818.1 68.7 H828.7 M88.5 154.6 H99.0 M818.1 154.6 H828.7 M88.5 240.5 H99.0 M818.1 240.5 H828.7 M88.5 326.3 H99.0 M818.1 326.3 H828.7 M88.5 412.2 H99.0 M818.1 412.2 H828.7 M88.5 497.2 H99.0 M818.1 497.2 H828.7 M88.5 610.3 H99.0 M818.1 610.3 H828.7 M88.5 723.3 H99.0 M818.1 723.3 H828.7 M88.5 836.3 H99.0 M818.1 836.3 H828.7"/>
</g>
<g id="labels">
<text x="73.8" y="76.8" text-anchor="end">-5</text>
<text x="73.8" y="162.7" text-anchor="end">-10</text>
<text x="73.8" y="248.6" text-anchor="end">-15</text>
<text x="73.8" y="334.4" text-anchor="end">-20</text>
<text x="73.8" y="420.3" text-anchor="end">-25</text>
<text x="73.8" y="505.3" text-anchor="end">3.5</text>
<text x="73.8" y="618.4" text-anchor="end">3.0</text>
<text x="73.8" y="731.4" text-anchor="end">2.5</text>
<text x="73.8" y="844.4" text-anchor="end">2.0</text>
<text x="145.2" y="891.0" text-anchor="middle">9.0</text>
<text x="287.6" y="891.0" text-anchor="middle">9.5</text>
<text x="430.1" y="891.0" text-anchor="middle">10.0</text>
<text x="572.5" y="891.0" text-anchor="middle">10.5</text>
<text x="714.9" y="891.0" text-anchor="middle">11.0</text>
<text x="458.7" y="926.4" text-anchor="middle">log <tspan font-style="italic">r</tspan> [cm]</text>
<text transform="translate(25.3 214.0) rotate(-90)" text-anchor="middle">log <tspan font-style="italic">&#961;</tspan> [g/cm<tspan font-size="19.12px" dy="-11.2">3</tspan><tspan dy="11.2">]</tspan></text>
<text transform="translate(23.2 644.0) rotate(-90)" text-anchor="middle">log <tspan font-style="italic">T</tspan> [K]</text>
</g>
</svg>
</body></html>
